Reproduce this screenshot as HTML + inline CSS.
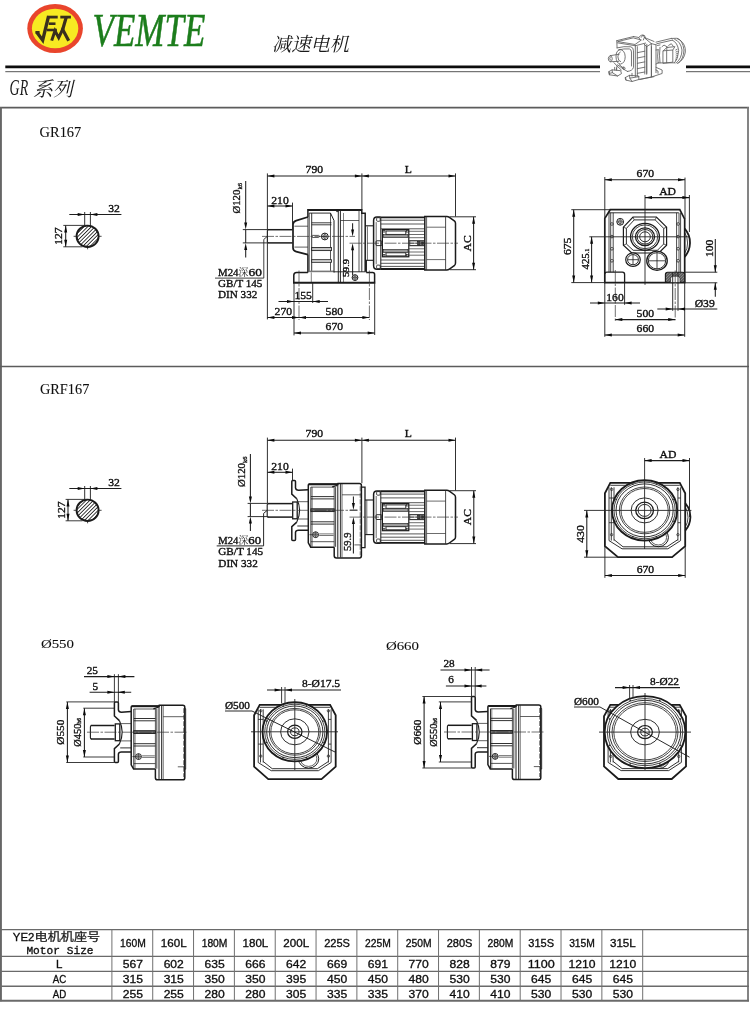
<!DOCTYPE html>
<html lang="en">
<head>
<meta charset="utf-8">
<title>VEMTE GR167 / GRF167</title>
<style>
html,body{margin:0;padding:0;background:#fff;}
body{width:750px;height:1032px;overflow:hidden;position:relative;font-family:"Liberation Serif",serif;}
svg{position:absolute;left:0;top:0;display:block;filter:blur(0.35px);}
text{white-space:pre;}
</style>
</head>
<body>
<svg width="750" height="1032" viewBox="0 0 750 1032" shape-rendering="geometricPrecision">
<rect x="0" y="0" width="750" height="1032" fill="#ffffff"/>
<g id="header">
<ellipse cx="55.1" cy="28.5" rx="27.8" ry="24.5" fill="#e9452c"/>
<ellipse cx="55.1" cy="28.5" rx="23.2" ry="19.8" fill="#f7ea22"/>
<path d="M36.6,31.9 L42.7,40.2 L48.6,16.0" fill="none" stroke="#3a2f1e" stroke-width="3.3" stroke-linejoin="miter" stroke-miterlimit="6"/>
<path d="M35.4,32.2 L39.6,32.2" fill="none" stroke="#3a2f1e" stroke-width="2.4" />
<path d="M47.7,17.1 L57.7,17.1" fill="none" stroke="#3a2f1e" stroke-width="2.8" />
<path d="M60.3,17.1 L70.9,17.1" fill="none" stroke="#3a2f1e" stroke-width="2.8" />
<path d="M48.7,23.7 L55.5,23.7" fill="none" stroke="#3a2f1e" stroke-width="2.6" />
<path d="M47,30 L56.9,30" fill="none" stroke="#3a2f1e" stroke-width="2.6" />
<path d="M51.7,40.6 L55,30.7 L58.7,37.6 L63.3,28" fill="none" stroke="#3a2f1e" stroke-width="3.0" stroke-linejoin="miter" stroke-miterlimit="6"/>
<path d="M66.3,17 L62.7,29.5 L68.7,40.8" fill="none" stroke="#3a2f1e" stroke-width="3.2" stroke-linejoin="round"/>
<text transform="translate(92.5 46.3) scale(0.745 1)" font-family="Liberation Serif" font-style="italic" font-size="47" fill="#1c7d1c" stroke="#1c7d1c" stroke-width="0.55">VEMTE</text>
<text transform="translate(271.9 51) skewX(-13)" font-family="'Liberation Serif', 'Noto Serif CJK SC', serif" font-size="19.3" fill="#1a1a1a" textLength="77.2" lengthAdjust="spacingAndGlyphs">减速电机</text>
<line x1="5.3" y1="66.9" x2="600" y2="66.9" stroke="#0c0c0c" stroke-width="2.6" />
<line x1="5.3" y1="71.7" x2="600" y2="71.7" stroke="#555" stroke-width="1.0" />
<line x1="686" y1="66.9" x2="750" y2="66.9" stroke="#0c0c0c" stroke-width="2.6" />
<line x1="686" y1="71.7" x2="750" y2="71.7" stroke="#555" stroke-width="1.0" />
<text transform="translate(9.6 94.6) scale(0.62 1)" font-family="Liberation Serif" font-style="italic" font-size="22.5" fill="#1a1a1a">GR</text>
<text transform="translate(33 95.6) skewX(-13)" font-family="'Liberation Serif', 'Noto Serif CJK SC', serif" font-size="20" fill="#1a1a1a" textLength="40" lengthAdjust="spacingAndGlyphs">系列</text>
</g>
<g id="frame">
<line x1="0" y1="107.6" x2="749" y2="107.6" stroke="#5c5c5c" stroke-width="1.6" />
<line x1="0.95" y1="107" x2="0.95" y2="1001.3" stroke="#666" stroke-width="1.9" />
<line x1="748" y1="107" x2="748" y2="1001.3" stroke="#777" stroke-width="1.8" />
<line x1="0" y1="366.5" x2="749" y2="366.5" stroke="#5c5c5c" stroke-width="1.5" />
</g>
<text x="39.6" y="136.6" font-family="Liberation Serif" font-size="13.6" text-anchor="start" fill="#0e0e0e" stroke="#0e0e0e" stroke-width="0.08" textLength="41.7" lengthAdjust="spacingAndGlyphs" >GR167</text>
<text x="40" y="394.3" font-family="Liberation Serif" font-size="13.6" text-anchor="start" fill="#0e0e0e" stroke="#0e0e0e" stroke-width="0.08" textLength="49.3" lengthAdjust="spacingAndGlyphs" >GRF167</text>
<text x="40.9" y="648.4" font-family="Liberation Serif" font-size="13.2" text-anchor="start" fill="#0e0e0e" stroke="#0e0e0e" stroke-width="0.08" textLength="33.1" lengthAdjust="spacingAndGlyphs" >Ø550</text>
<text x="385.9" y="650.3" font-family="Liberation Serif" font-size="13.2" text-anchor="start" fill="#0e0e0e" stroke="#0e0e0e" stroke-width="0.08" textLength="33.1" lengthAdjust="spacingAndGlyphs" >Ø660</text>
<g id="table">
<line x1="0" y1="929.5" x2="749" y2="929.5" stroke="#6a6a6a" stroke-width="1.25" />
<line x1="0" y1="956.4" x2="749" y2="956.4" stroke="#6a6a6a" stroke-width="1.25" />
<line x1="0" y1="971.3" x2="749" y2="971.3" stroke="#6a6a6a" stroke-width="1.25" />
<line x1="0" y1="986.2" x2="749" y2="986.2" stroke="#6a6a6a" stroke-width="1.35" />
<line x1="0" y1="1000.8" x2="749" y2="1000.8" stroke="#6a6a6a" stroke-width="1.9" />
<line x1="111.9" y1="929.5" x2="111.9" y2="1000.7" stroke="#707070" stroke-width="1.0" />
<line x1="152.73" y1="929.5" x2="152.73" y2="1000.7" stroke="#707070" stroke-width="1.0" />
<line x1="193.56" y1="929.5" x2="193.56" y2="1000.7" stroke="#707070" stroke-width="1.0" />
<line x1="234.39" y1="929.5" x2="234.39" y2="1000.7" stroke="#707070" stroke-width="1.0" />
<line x1="275.22" y1="929.5" x2="275.22" y2="1000.7" stroke="#707070" stroke-width="1.0" />
<line x1="316.05" y1="929.5" x2="316.05" y2="1000.7" stroke="#707070" stroke-width="1.0" />
<line x1="356.88" y1="929.5" x2="356.88" y2="1000.7" stroke="#707070" stroke-width="1.0" />
<line x1="397.71" y1="929.5" x2="397.71" y2="1000.7" stroke="#707070" stroke-width="1.0" />
<line x1="438.54" y1="929.5" x2="438.54" y2="1000.7" stroke="#707070" stroke-width="1.0" />
<line x1="479.37" y1="929.5" x2="479.37" y2="1000.7" stroke="#707070" stroke-width="1.0" />
<line x1="520.2" y1="929.5" x2="520.2" y2="1000.7" stroke="#707070" stroke-width="1.0" />
<line x1="561.03" y1="929.5" x2="561.03" y2="1000.7" stroke="#707070" stroke-width="1.0" />
<line x1="601.86" y1="929.5" x2="601.86" y2="1000.7" stroke="#707070" stroke-width="1.0" />
<line x1="642.69" y1="929.5" x2="642.69" y2="1000.7" stroke="#707070" stroke-width="1.0" />
<text x="12.8" y="941.3" font-family="Liberation Sans" font-size="11.2" text-anchor="start" fill="#0e0e0e" stroke="#0e0e0e" stroke-width="0.32" textLength="21.5" lengthAdjust="spacingAndGlyphs" >YE2</text>
<text x="34.6" y="941" font-family="'Liberation Sans', 'Noto Sans CJK SC', sans-serif" font-size="11.2" text-anchor="start" fill="#1a1a1a" stroke="#1a1a1a" stroke-width="0.25" textLength="65.5" lengthAdjust="spacingAndGlyphs">电机机座号</text>
<text x="26.4" y="954.4" font-family="Liberation Mono" font-size="11" text-anchor="start" fill="#0e0e0e" stroke="#0e0e0e" stroke-width="0.32" textLength="67.2" lengthAdjust="spacingAndGlyphs" >Motor Size</text>
<text x="59.3" y="968.1" font-family="Liberation Sans" font-size="11.5" text-anchor="middle" fill="#0e0e0e" stroke="#0e0e0e" stroke-width="0.32" >L</text>
<text x="59.5" y="982.7" font-family="Liberation Sans" font-size="11.5" text-anchor="middle" fill="#0e0e0e" stroke="#0e0e0e" stroke-width="0.32" textLength="13.5" lengthAdjust="spacingAndGlyphs" >AC</text>
<text x="59.5" y="997.5" font-family="Liberation Sans" font-size="11.5" text-anchor="middle" fill="#0e0e0e" stroke="#0e0e0e" stroke-width="0.32" textLength="13.5" lengthAdjust="spacingAndGlyphs" >AD</text>
<text x="132.91" y="947.2" font-family="Liberation Sans" font-size="11.2" text-anchor="middle" fill="#0e0e0e" stroke="#0e0e0e" stroke-width="0.32" textLength="25.8" lengthAdjust="spacingAndGlyphs" >160M</text>
<text x="132.91" y="968.1" font-family="Liberation Sans" font-size="11.6" text-anchor="middle" fill="#0e0e0e" stroke="#0e0e0e" stroke-width="0.32" textLength="20.2" lengthAdjust="spacingAndGlyphs" >567</text>
<text x="132.91" y="982.7" font-family="Liberation Sans" font-size="11.6" text-anchor="middle" fill="#0e0e0e" stroke="#0e0e0e" stroke-width="0.32" textLength="20.2" lengthAdjust="spacingAndGlyphs" >315</text>
<text x="132.91" y="997.5" font-family="Liberation Sans" font-size="11.6" text-anchor="middle" fill="#0e0e0e" stroke="#0e0e0e" stroke-width="0.32" textLength="20.2" lengthAdjust="spacingAndGlyphs" >255</text>
<text x="173.75" y="947.2" font-family="Liberation Sans" font-size="11.2" text-anchor="middle" fill="#0e0e0e" stroke="#0e0e0e" stroke-width="0.32" textLength="25.8" lengthAdjust="spacingAndGlyphs" >160L</text>
<text x="173.75" y="968.1" font-family="Liberation Sans" font-size="11.6" text-anchor="middle" fill="#0e0e0e" stroke="#0e0e0e" stroke-width="0.32" textLength="20.2" lengthAdjust="spacingAndGlyphs" >602</text>
<text x="173.75" y="982.7" font-family="Liberation Sans" font-size="11.6" text-anchor="middle" fill="#0e0e0e" stroke="#0e0e0e" stroke-width="0.32" textLength="20.2" lengthAdjust="spacingAndGlyphs" >315</text>
<text x="173.75" y="997.5" font-family="Liberation Sans" font-size="11.6" text-anchor="middle" fill="#0e0e0e" stroke="#0e0e0e" stroke-width="0.32" textLength="20.2" lengthAdjust="spacingAndGlyphs" >255</text>
<text x="214.57" y="947.2" font-family="Liberation Sans" font-size="11.2" text-anchor="middle" fill="#0e0e0e" stroke="#0e0e0e" stroke-width="0.32" textLength="25.8" lengthAdjust="spacingAndGlyphs" >180M</text>
<text x="214.57" y="968.1" font-family="Liberation Sans" font-size="11.6" text-anchor="middle" fill="#0e0e0e" stroke="#0e0e0e" stroke-width="0.32" textLength="20.2" lengthAdjust="spacingAndGlyphs" >635</text>
<text x="214.57" y="982.7" font-family="Liberation Sans" font-size="11.6" text-anchor="middle" fill="#0e0e0e" stroke="#0e0e0e" stroke-width="0.32" textLength="20.2" lengthAdjust="spacingAndGlyphs" >350</text>
<text x="214.57" y="997.5" font-family="Liberation Sans" font-size="11.6" text-anchor="middle" fill="#0e0e0e" stroke="#0e0e0e" stroke-width="0.32" textLength="20.2" lengthAdjust="spacingAndGlyphs" >280</text>
<text x="255.41" y="947.2" font-family="Liberation Sans" font-size="11.2" text-anchor="middle" fill="#0e0e0e" stroke="#0e0e0e" stroke-width="0.32" textLength="25.8" lengthAdjust="spacingAndGlyphs" >180L</text>
<text x="255.41" y="968.1" font-family="Liberation Sans" font-size="11.6" text-anchor="middle" fill="#0e0e0e" stroke="#0e0e0e" stroke-width="0.32" textLength="20.2" lengthAdjust="spacingAndGlyphs" >666</text>
<text x="255.41" y="982.7" font-family="Liberation Sans" font-size="11.6" text-anchor="middle" fill="#0e0e0e" stroke="#0e0e0e" stroke-width="0.32" textLength="20.2" lengthAdjust="spacingAndGlyphs" >350</text>
<text x="255.41" y="997.5" font-family="Liberation Sans" font-size="11.6" text-anchor="middle" fill="#0e0e0e" stroke="#0e0e0e" stroke-width="0.32" textLength="20.2" lengthAdjust="spacingAndGlyphs" >280</text>
<text x="296.24" y="947.2" font-family="Liberation Sans" font-size="11.2" text-anchor="middle" fill="#0e0e0e" stroke="#0e0e0e" stroke-width="0.32" textLength="25.8" lengthAdjust="spacingAndGlyphs" >200L</text>
<text x="296.24" y="968.1" font-family="Liberation Sans" font-size="11.6" text-anchor="middle" fill="#0e0e0e" stroke="#0e0e0e" stroke-width="0.32" textLength="20.2" lengthAdjust="spacingAndGlyphs" >642</text>
<text x="296.24" y="982.7" font-family="Liberation Sans" font-size="11.6" text-anchor="middle" fill="#0e0e0e" stroke="#0e0e0e" stroke-width="0.32" textLength="20.2" lengthAdjust="spacingAndGlyphs" >395</text>
<text x="296.24" y="997.5" font-family="Liberation Sans" font-size="11.6" text-anchor="middle" fill="#0e0e0e" stroke="#0e0e0e" stroke-width="0.32" textLength="20.2" lengthAdjust="spacingAndGlyphs" >305</text>
<text x="337.06" y="947.2" font-family="Liberation Sans" font-size="11.2" text-anchor="middle" fill="#0e0e0e" stroke="#0e0e0e" stroke-width="0.32" textLength="25.8" lengthAdjust="spacingAndGlyphs" >225S</text>
<text x="337.06" y="968.1" font-family="Liberation Sans" font-size="11.6" text-anchor="middle" fill="#0e0e0e" stroke="#0e0e0e" stroke-width="0.32" textLength="20.2" lengthAdjust="spacingAndGlyphs" >669</text>
<text x="337.06" y="982.7" font-family="Liberation Sans" font-size="11.6" text-anchor="middle" fill="#0e0e0e" stroke="#0e0e0e" stroke-width="0.32" textLength="20.2" lengthAdjust="spacingAndGlyphs" >450</text>
<text x="337.06" y="997.5" font-family="Liberation Sans" font-size="11.6" text-anchor="middle" fill="#0e0e0e" stroke="#0e0e0e" stroke-width="0.32" textLength="20.2" lengthAdjust="spacingAndGlyphs" >335</text>
<text x="377.9" y="947.2" font-family="Liberation Sans" font-size="11.2" text-anchor="middle" fill="#0e0e0e" stroke="#0e0e0e" stroke-width="0.32" textLength="25.8" lengthAdjust="spacingAndGlyphs" >225M</text>
<text x="377.9" y="968.1" font-family="Liberation Sans" font-size="11.6" text-anchor="middle" fill="#0e0e0e" stroke="#0e0e0e" stroke-width="0.32" textLength="20.2" lengthAdjust="spacingAndGlyphs" >691</text>
<text x="377.9" y="982.7" font-family="Liberation Sans" font-size="11.6" text-anchor="middle" fill="#0e0e0e" stroke="#0e0e0e" stroke-width="0.32" textLength="20.2" lengthAdjust="spacingAndGlyphs" >450</text>
<text x="377.9" y="997.5" font-family="Liberation Sans" font-size="11.6" text-anchor="middle" fill="#0e0e0e" stroke="#0e0e0e" stroke-width="0.32" textLength="20.2" lengthAdjust="spacingAndGlyphs" >335</text>
<text x="418.73" y="947.2" font-family="Liberation Sans" font-size="11.2" text-anchor="middle" fill="#0e0e0e" stroke="#0e0e0e" stroke-width="0.32" textLength="25.8" lengthAdjust="spacingAndGlyphs" >250M</text>
<text x="418.73" y="968.1" font-family="Liberation Sans" font-size="11.6" text-anchor="middle" fill="#0e0e0e" stroke="#0e0e0e" stroke-width="0.32" textLength="20.2" lengthAdjust="spacingAndGlyphs" >770</text>
<text x="418.73" y="982.7" font-family="Liberation Sans" font-size="11.6" text-anchor="middle" fill="#0e0e0e" stroke="#0e0e0e" stroke-width="0.32" textLength="20.2" lengthAdjust="spacingAndGlyphs" >480</text>
<text x="418.73" y="997.5" font-family="Liberation Sans" font-size="11.6" text-anchor="middle" fill="#0e0e0e" stroke="#0e0e0e" stroke-width="0.32" textLength="20.2" lengthAdjust="spacingAndGlyphs" >370</text>
<text x="459.56" y="947.2" font-family="Liberation Sans" font-size="11.2" text-anchor="middle" fill="#0e0e0e" stroke="#0e0e0e" stroke-width="0.32" textLength="25.8" lengthAdjust="spacingAndGlyphs" >280S</text>
<text x="459.56" y="968.1" font-family="Liberation Sans" font-size="11.6" text-anchor="middle" fill="#0e0e0e" stroke="#0e0e0e" stroke-width="0.32" textLength="20.2" lengthAdjust="spacingAndGlyphs" >828</text>
<text x="459.56" y="982.7" font-family="Liberation Sans" font-size="11.6" text-anchor="middle" fill="#0e0e0e" stroke="#0e0e0e" stroke-width="0.32" textLength="20.2" lengthAdjust="spacingAndGlyphs" >530</text>
<text x="459.56" y="997.5" font-family="Liberation Sans" font-size="11.6" text-anchor="middle" fill="#0e0e0e" stroke="#0e0e0e" stroke-width="0.32" textLength="20.2" lengthAdjust="spacingAndGlyphs" >410</text>
<text x="500.38" y="947.2" font-family="Liberation Sans" font-size="11.2" text-anchor="middle" fill="#0e0e0e" stroke="#0e0e0e" stroke-width="0.32" textLength="25.8" lengthAdjust="spacingAndGlyphs" >280M</text>
<text x="500.38" y="968.1" font-family="Liberation Sans" font-size="11.6" text-anchor="middle" fill="#0e0e0e" stroke="#0e0e0e" stroke-width="0.32" textLength="20.2" lengthAdjust="spacingAndGlyphs" >879</text>
<text x="500.38" y="982.7" font-family="Liberation Sans" font-size="11.6" text-anchor="middle" fill="#0e0e0e" stroke="#0e0e0e" stroke-width="0.32" textLength="20.2" lengthAdjust="spacingAndGlyphs" >530</text>
<text x="500.38" y="997.5" font-family="Liberation Sans" font-size="11.6" text-anchor="middle" fill="#0e0e0e" stroke="#0e0e0e" stroke-width="0.32" textLength="20.2" lengthAdjust="spacingAndGlyphs" >410</text>
<text x="541.22" y="947.2" font-family="Liberation Sans" font-size="11.2" text-anchor="middle" fill="#0e0e0e" stroke="#0e0e0e" stroke-width="0.32" textLength="25.8" lengthAdjust="spacingAndGlyphs" >315S</text>
<text x="541.22" y="968.1" font-family="Liberation Sans" font-size="11.6" text-anchor="middle" fill="#0e0e0e" stroke="#0e0e0e" stroke-width="0.32" textLength="27" lengthAdjust="spacingAndGlyphs" >1100</text>
<text x="541.22" y="982.7" font-family="Liberation Sans" font-size="11.6" text-anchor="middle" fill="#0e0e0e" stroke="#0e0e0e" stroke-width="0.32" textLength="20.2" lengthAdjust="spacingAndGlyphs" >645</text>
<text x="541.22" y="997.5" font-family="Liberation Sans" font-size="11.6" text-anchor="middle" fill="#0e0e0e" stroke="#0e0e0e" stroke-width="0.32" textLength="20.2" lengthAdjust="spacingAndGlyphs" >530</text>
<text x="582.04" y="947.2" font-family="Liberation Sans" font-size="11.2" text-anchor="middle" fill="#0e0e0e" stroke="#0e0e0e" stroke-width="0.32" textLength="25.8" lengthAdjust="spacingAndGlyphs" >315M</text>
<text x="582.04" y="968.1" font-family="Liberation Sans" font-size="11.6" text-anchor="middle" fill="#0e0e0e" stroke="#0e0e0e" stroke-width="0.32" textLength="27" lengthAdjust="spacingAndGlyphs" >1210</text>
<text x="582.04" y="982.7" font-family="Liberation Sans" font-size="11.6" text-anchor="middle" fill="#0e0e0e" stroke="#0e0e0e" stroke-width="0.32" textLength="20.2" lengthAdjust="spacingAndGlyphs" >645</text>
<text x="582.04" y="997.5" font-family="Liberation Sans" font-size="11.6" text-anchor="middle" fill="#0e0e0e" stroke="#0e0e0e" stroke-width="0.32" textLength="20.2" lengthAdjust="spacingAndGlyphs" >530</text>
<text x="622.88" y="947.2" font-family="Liberation Sans" font-size="11.2" text-anchor="middle" fill="#0e0e0e" stroke="#0e0e0e" stroke-width="0.32" textLength="25.8" lengthAdjust="spacingAndGlyphs" >315L</text>
<text x="622.88" y="968.1" font-family="Liberation Sans" font-size="11.6" text-anchor="middle" fill="#0e0e0e" stroke="#0e0e0e" stroke-width="0.32" textLength="27" lengthAdjust="spacingAndGlyphs" >1210</text>
<text x="622.88" y="982.7" font-family="Liberation Sans" font-size="11.6" text-anchor="middle" fill="#0e0e0e" stroke="#0e0e0e" stroke-width="0.32" textLength="20.2" lengthAdjust="spacingAndGlyphs" >645</text>
<text x="622.88" y="997.5" font-family="Liberation Sans" font-size="11.6" text-anchor="middle" fill="#0e0e0e" stroke="#0e0e0e" stroke-width="0.32" textLength="20.2" lengthAdjust="spacingAndGlyphs" >530</text>
</g>
<g id="gr167-side">
<line x1="267.5" y1="229.7" x2="292.6" y2="229.7" stroke="#1b1b1b" stroke-width="1.5" />
<line x1="267.5" y1="242.9" x2="292.6" y2="242.9" stroke="#1b1b1b" stroke-width="1.5" />
<path d="M268.3,229.7 L267.4,230.8 L267.4,241.8 L268.3,242.9" fill="none" stroke="#1b1b1b" stroke-width="1.0" />
<path d="M307.9,217 L296.2,220.6 Q293,221.6 293,224.6 L293,247.8 Q293,250.8 296.2,251.6 L307.9,254.6" fill="none" stroke="#1b1b1b" stroke-width="1.7" />
<line x1="294.4" y1="226.2" x2="307.9" y2="226.2" stroke="#2c2c2c" stroke-width="0.75" />
<line x1="294.4" y1="247.1" x2="307.9" y2="247.1" stroke="#2c2c2c" stroke-width="0.75" />
<path d="M307.9,217 L307.9,209.7 L361.8,209.7 L361.8,213.2 L365.2,213.2 L365.2,271.8" fill="none" stroke="#1b1b1b" stroke-width="1.5" />
<line x1="307.9" y1="254.6" x2="307.9" y2="272.4" stroke="#1b1b1b" stroke-width="1.5" />
<line x1="307.9" y1="217" x2="307.9" y2="254.6" stroke="#1b1b1b" stroke-width="0.8" />
<line x1="307.9" y1="210" x2="361.8" y2="210" stroke="#1b1b1b" stroke-width="1.8" />
<line x1="309.2" y1="213.1" x2="309.2" y2="272" stroke="#1b1b1b" stroke-width="0.8" />
<line x1="311.7" y1="213.1" x2="311.7" y2="272" stroke="#1b1b1b" stroke-width="0.9" />
<line x1="330.5" y1="213.1" x2="330.5" y2="272" stroke="#2c2c2c" stroke-width="0.8" />
<line x1="309.2" y1="213.1" x2="330.5" y2="213.1" stroke="#1b1b1b" stroke-width="0.9" />
<rect x="311.7" y="247.5" width="19.8" height="3.1" rx="0" fill="#c4c4c4" stroke="#1b1b1b" stroke-width="0.85"/>
<rect x="311.7" y="259.7" width="19.8" height="2.6" rx="0" fill="#dcdcdc" stroke="#1b1b1b" stroke-width="0.85"/>
<line x1="311.7" y1="222.8" x2="331.5" y2="222.8" stroke="#1b1b1b" stroke-width="0.85" />
<line x1="311.7" y1="224.8" x2="331.5" y2="224.8" stroke="#1b1b1b" stroke-width="0.85" />
<line x1="309.2" y1="271.4" x2="334" y2="271.4" stroke="#777" stroke-width="1.6" />
<path d="M330.5,213.1 L334.0,220.5 L334.0,272.6" fill="none" stroke="#1b1b1b" stroke-width="1.0" />
<path d="M336.6,209.9 L336.6,211.6 L338.3,211.6" fill="none" stroke="#1b1b1b" stroke-width="0.9" />
<line x1="338.3" y1="209.7" x2="338.3" y2="282.3" stroke="#1b1b1b" stroke-width="0.95" />
<line x1="340.4" y1="209.7" x2="340.4" y2="282.3" stroke="#1b1b1b" stroke-width="0.95" />
<line x1="359" y1="209.7" x2="359" y2="271.8" stroke="#2c2c2c" stroke-width="0.8" />
<line x1="361.8" y1="213.2" x2="361.8" y2="271.8" stroke="#1b1b1b" stroke-width="0.9" />
<line x1="343.5" y1="213" x2="343.5" y2="282" stroke="#2c2c2c" stroke-width="0.6" />
<line x1="340.4" y1="220.5" x2="359" y2="220.5" stroke="#2c2c2c" stroke-width="0.75" />
<line x1="365.2" y1="225.8" x2="373.6" y2="225.8" stroke="#1b1b1b" stroke-width="1.1" />
<line x1="365.2" y1="260.3" x2="373.6" y2="260.3" stroke="#1b1b1b" stroke-width="1.1" />
<line x1="366.3" y1="260.3" x2="366.3" y2="272.4" stroke="#1b1b1b" stroke-width="1.3" />
<line x1="367.4" y1="226.4" x2="367.4" y2="260.3" stroke="#2c2c2c" stroke-width="0.7" />
<path d="M307.9,272.4 L296.6,272.4 Q293.8,272.4 293.8,275.2 L293.8,282.6" fill="none" stroke="#1b1b1b" stroke-width="1.5" />
<line x1="293" y1="282.7" x2="375.3" y2="282.7" stroke="#1b1b1b" stroke-width="1.9" />
<path d="M366.3,272.5 L372.6,272.5 Q374.6,272.5 374.6,274.5 L374.6,282.6" fill="none" stroke="#1b1b1b" stroke-width="1.5" />
<line x1="334" y1="271.8" x2="365.2" y2="271.8" stroke="#1b1b1b" stroke-width="0.9" />
<line x1="311.3" y1="272.4" x2="311.3" y2="282.5" stroke="#2c2c2c" stroke-width="0.6" />
<line x1="262" y1="236.4" x2="355" y2="236.4" stroke="#333" stroke-width="0.7" stroke-dasharray="12 1.5 2.5 1.5"/>
<circle cx="324.8" cy="236.5" r="3.4" fill="none" stroke="#1b1b1b" stroke-width="1.0"/>
<circle cx="324.8" cy="236.5" r="1.87" fill="none" stroke="#1b1b1b" stroke-width="0.6"/>
<line x1="321.4" y1="236.5" x2="328.2" y2="236.5" stroke="#1b1b1b" stroke-width="0.6" />
<line x1="324.8" y1="233.1" x2="324.8" y2="239.9" stroke="#1b1b1b" stroke-width="0.6" />
<path d="M312.2,235.4 L318.6,235.4 L319.8,236.4 L318.6,237.5 L312.2,237.5" fill="none" stroke="#1b1b1b" stroke-width="0.7" />
<circle cx="355" cy="277.6" r="2.9" fill="none" stroke="#1b1b1b" stroke-width="1.0"/>
<circle cx="355" cy="277.6" r="1.59" fill="none" stroke="#1b1b1b" stroke-width="0.6"/>
<line x1="352.1" y1="277.6" x2="357.9" y2="277.6" stroke="#1b1b1b" stroke-width="0.6" />
<line x1="355" y1="274.7" x2="355" y2="280.5" stroke="#1b1b1b" stroke-width="0.6" />
<g class="motor">
<path d="M380.8,217.1 L377,217.1 Q373.6,217.1 373.6,220.6 L373.6,265.8 Q373.6,269.3 377,269.3 L380.8,269.3" fill="none" stroke="#1b1b1b" stroke-width="1.5" />
<line x1="380.8" y1="217.1" x2="380.8" y2="269.3" stroke="#1b1b1b" stroke-width="1.0" />
<line x1="376.2" y1="222.1" x2="376.2" y2="264.3" stroke="#2c2c2c" stroke-width="0.7" />
<rect x="376.6" y="217.7" width="3.6" height="3.6" rx="1" fill="none" stroke="#1b1b1b" stroke-width="0.8"/>
<rect x="376.6" y="265.1" width="3.6" height="3.6" rx="1" fill="none" stroke="#1b1b1b" stroke-width="0.8"/>
<line x1="380.8" y1="217.4" x2="425" y2="217.4" stroke="#1b1b1b" stroke-width="1.9" />
<line x1="380.8" y1="269" x2="425" y2="269" stroke="#1b1b1b" stroke-width="1.9" />
<line x1="380.8" y1="220.2" x2="424.8" y2="220.2" stroke="#2c2c2c" stroke-width="0.8" />
<line x1="380.8" y1="224" x2="424.8" y2="224" stroke="#2c2c2c" stroke-width="0.8" />
<line x1="380.8" y1="228.8" x2="424.8" y2="228.8" stroke="#2c2c2c" stroke-width="0.8" />
<line x1="380.8" y1="260" x2="424.8" y2="260" stroke="#2c2c2c" stroke-width="0.8" />
<line x1="380.8" y1="263.3" x2="424.8" y2="263.3" stroke="#2c2c2c" stroke-width="0.8" />
<line x1="380.8" y1="266.4" x2="424.8" y2="266.4" stroke="#2c2c2c" stroke-width="0.8" />
<rect x="382.4" y="229.6" width="26.4" height="27.2" rx="0" fill="none" stroke="#1b1b1b" stroke-width="1.2"/>
<rect x="386" y="231" width="19.8" height="3.4" rx="0" fill="#fff" stroke="#1b1b1b" stroke-width="0.9"/>
<rect x="386" y="252.8" width="19.8" height="3.1" rx="0" fill="#fff" stroke="#1b1b1b" stroke-width="0.9"/>
<rect x="383.2" y="234.6" width="24.8" height="3" rx="0" fill="#9a9a9a" stroke="#1b1b1b" stroke-width="0.6"/>
<rect x="383.2" y="249.4" width="24.8" height="3.2" rx="0" fill="#9a9a9a" stroke="#1b1b1b" stroke-width="0.6"/>
<rect x="383.1" y="230.3" width="1.8" height="1.8" rx="0" fill="none" stroke="#1b1b1b" stroke-width="0.6"/>
<rect x="406.3" y="230.3" width="1.8" height="1.8" rx="0" fill="none" stroke="#1b1b1b" stroke-width="0.6"/>
<rect x="383.1" y="254.3" width="1.8" height="1.8" rx="0" fill="none" stroke="#1b1b1b" stroke-width="0.6"/>
<rect x="406.3" y="254.3" width="1.8" height="1.8" rx="0" fill="none" stroke="#1b1b1b" stroke-width="0.6"/>
<line x1="408.8" y1="231.3" x2="424.8" y2="231.3" stroke="#2c2c2c" stroke-width="0.7" />
<line x1="408.8" y1="234.5" x2="424.8" y2="234.5" stroke="#2c2c2c" stroke-width="0.7" />
<line x1="408.8" y1="237.7" x2="424.8" y2="237.7" stroke="#2c2c2c" stroke-width="0.7" />
<line x1="408.8" y1="240.6" x2="424.8" y2="240.6" stroke="#2c2c2c" stroke-width="0.7" />
<line x1="408.8" y1="245.8" x2="424.8" y2="245.8" stroke="#2c2c2c" stroke-width="0.7" />
<line x1="408.8" y1="248.8" x2="424.8" y2="248.8" stroke="#2c2c2c" stroke-width="0.7" />
<line x1="408.8" y1="252" x2="424.8" y2="252" stroke="#2c2c2c" stroke-width="0.7" />
<line x1="408.8" y1="255.2" x2="424.8" y2="255.2" stroke="#2c2c2c" stroke-width="0.7" />
<rect x="409.8" y="240.9" width="14.4" height="4.6" rx="0" fill="#fff" stroke="#1b1b1b" stroke-width="0.8"/>
<rect x="417.6" y="241.3" width="2.6" height="3.8" rx="0" fill="#444" stroke="#1b1b1b" stroke-width="0.6"/>
<rect x="421.4" y="241.8" width="2.2" height="2.8" rx="0" fill="#333" stroke="#1b1b1b" stroke-width="0.6"/>
<line x1="409.8" y1="243.2" x2="417.6" y2="243.2" stroke="#1b1b1b" stroke-width="0.6" />
<rect x="376" y="240.8" width="5.8" height="4.8" rx="0.8" fill="none" stroke="#1b1b1b" stroke-width="0.9"/>
<path d="M424.8,216.4 L446.8,216.4 Q448.2,216.4 449.4,217.3 L454.6,221.1 Q455.5,221.9 455.5,223.3 L455.5,263.1 Q455.5,264.5 454.6,265.3 L449.4,269.1 Q448.2,270 446.8,270 L424.8,270 Z" fill="none" stroke="#1b1b1b" stroke-width="1.5" />
<line x1="445.6" y1="216.4" x2="445.6" y2="270" stroke="#2c2c2c" stroke-width="0.85" />
<line x1="426.6" y1="216.4" x2="426.6" y2="270" stroke="#2c2c2c" stroke-width="0.75" />
<line x1="426.6" y1="227.2" x2="445.6" y2="227.2" stroke="#2c2c2c" stroke-width="0.7" />
<line x1="426.6" y1="259.6" x2="445.6" y2="259.6" stroke="#2c2c2c" stroke-width="0.7" />
<line x1="349.5" y1="243.2" x2="458" y2="243.2" stroke="#333" stroke-width="0.7" stroke-dasharray="12 1.5 2.5 1.5"/>
</g>
<line x1="267.4" y1="173.4" x2="267.4" y2="319.4" stroke="#262626" stroke-width="0.95" />
<line x1="361.9" y1="173.4" x2="361.9" y2="209.7" stroke="#262626" stroke-width="0.95" />
<line x1="455.5" y1="173.4" x2="455.5" y2="216.5" stroke="#262626" stroke-width="0.95" />
<line x1="267.4" y1="176" x2="361.9" y2="176" stroke="#1e1e1e" stroke-width="1.05" />
<polygon points="267.4,176 274.4,174.5 274.4,177.5" fill="#0a0a0a"/>
<polygon points="361.9,176 354.9,174.5 354.9,177.5" fill="#0a0a0a"/>
<line x1="361.9" y1="176" x2="455.5" y2="176" stroke="#1e1e1e" stroke-width="1.05" />
<polygon points="361.9,176 368.9,174.5 368.9,177.5" fill="#0a0a0a"/>
<polygon points="455.5,176 448.5,174.5 448.5,177.5" fill="#0a0a0a"/>
<text x="314.3" y="172.9" font-family="Liberation Serif" font-size="10.8" text-anchor="middle" fill="#0e0e0e" stroke="#0e0e0e" stroke-width="0.34" textLength="17.5" lengthAdjust="spacingAndGlyphs" >790</text>
<text x="408.3" y="172.6" font-family="Liberation Serif" font-size="10.8" text-anchor="middle" fill="#0e0e0e" stroke="#0e0e0e" stroke-width="0.34" textLength="7.12" lengthAdjust="spacingAndGlyphs" >L</text>
<line x1="292.5" y1="202.6" x2="292.5" y2="229.5" stroke="#262626" stroke-width="0.95" />
<line x1="267.4" y1="206" x2="292.5" y2="206" stroke="#1e1e1e" stroke-width="1.05" />
<polygon points="267.4,206 274.4,204.5 274.4,207.5" fill="#0a0a0a"/>
<polygon points="292.5,206 285.5,204.5 285.5,207.5" fill="#0a0a0a"/>
<text x="280" y="203.6" font-family="Liberation Serif" font-size="10.8" text-anchor="middle" fill="#0e0e0e" stroke="#0e0e0e" stroke-width="0.34" textLength="17.5" lengthAdjust="spacingAndGlyphs" >210</text>
<line x1="245.7" y1="181" x2="245.7" y2="223" stroke="#1e1e1e" stroke-width="1.05" />
<polygon points="245.7,229.6 244.2,222.6 247.2,222.6" fill="#0a0a0a"/>
<line x1="245.7" y1="249" x2="245.7" y2="257.4" stroke="#1e1e1e" stroke-width="1.05" />
<polygon points="245.7,242.9 244.2,249.9 247.2,249.9" fill="#0a0a0a"/>
<line x1="245.7" y1="229.6" x2="245.7" y2="242.9" stroke="#1e1e1e" stroke-width="1.05" />
<line x1="242.8" y1="229.6" x2="267.4" y2="229.6" stroke="#262626" stroke-width="0.95" />
<line x1="242.8" y1="242.9" x2="267.4" y2="242.9" stroke="#262626" stroke-width="0.95" />
<text transform="translate(240.4 213.6) rotate(-90)" font-family="Liberation Serif" font-size="10.8" fill="#161616" stroke="#0e0e0e" stroke-width="0.34">Ø120<tspan font-size="6.5" dy="1.8">k6</tspan></text>
<path d="M267.4,236.3 L263.8,239.4 L263.8,278.1 L215,278.1" fill="none" stroke="#1e1e1e" stroke-width="0.85" />
<text x="218" y="275.7" font-family="Liberation Serif" font-size="10.2" text-anchor="start" fill="#0e0e0e" stroke="#0e0e0e" stroke-width="0.34" textLength="20.5" lengthAdjust="spacingAndGlyphs" >M24</text>
<text x="238.6" y="275.6" font-family="'Liberation Serif', 'Noto Serif CJK SC', serif" font-size="9.8" text-anchor="start" fill="#222">深</text>
<text x="248.6" y="275.7" font-family="Liberation Serif" font-size="10.2" text-anchor="start" fill="#0e0e0e" stroke="#0e0e0e" stroke-width="0.34" textLength="13.4" lengthAdjust="spacingAndGlyphs" >60</text>
<text x="218" y="286.5" font-family="Liberation Serif" font-size="10.4" text-anchor="start" fill="#0e0e0e" stroke="#0e0e0e" stroke-width="0.34" textLength="44.4" lengthAdjust="spacingAndGlyphs" >GB/T 145</text>
<text x="218" y="298" font-family="Liberation Serif" font-size="10.4" text-anchor="start" fill="#0e0e0e" stroke="#0e0e0e" stroke-width="0.34" textLength="39.3" lengthAdjust="spacingAndGlyphs" >DIN 332</text>
<line x1="352.6" y1="223.2" x2="352.6" y2="230" stroke="#1e1e1e" stroke-width="1.05" />
<polygon points="352.6,236.4 351.1,229.4 354.1,229.4" fill="#0a0a0a"/>
<line x1="352.6" y1="249.5" x2="352.6" y2="275.2" stroke="#1e1e1e" stroke-width="1.05" />
<polygon points="352.6,243.3 351.1,250.3 354.1,250.3" fill="#0a0a0a"/>
<text transform="translate(349 277) rotate(-90)" font-family="Liberation Serif" font-size="8.9" text-anchor="start" fill="#0e0e0e" stroke="#0e0e0e" stroke-width="0.34" textLength="17.9" lengthAdjust="spacingAndGlyphs" >59.9</text>
<line x1="449.6" y1="216.8" x2="476" y2="216.8" stroke="#262626" stroke-width="0.95" />
<line x1="449.6" y1="269.7" x2="476" y2="269.7" stroke="#262626" stroke-width="0.95" />
<line x1="473.6" y1="216.8" x2="473.6" y2="269.7" stroke="#1e1e1e" stroke-width="1.05" />
<polygon points="473.6,216.8 472.1,223.8 475.1,223.8" fill="#0a0a0a"/>
<polygon points="473.6,269.7 472.1,262.7 475.1,262.7" fill="#0a0a0a"/>
<text transform="translate(470.6 243.3) rotate(-90)" font-family="Liberation Serif" font-size="10.8" text-anchor="middle" fill="#0e0e0e" stroke="#0e0e0e" stroke-width="0.34" textLength="16.2" lengthAdjust="spacingAndGlyphs" >AC</text>
<line x1="294" y1="283" x2="294" y2="335.4" stroke="#262626" stroke-width="0.95" />
<line x1="299" y1="270.5" x2="299" y2="320" stroke="#333" stroke-width="0.7" stroke-dasharray="12 1.5 2.5 1.5"/>
<line x1="312.7" y1="283" x2="312.7" y2="303" stroke="#262626" stroke-width="0.95" />
<line x1="369.4" y1="270.5" x2="369.4" y2="320" stroke="#333" stroke-width="0.7" stroke-dasharray="12 1.5 2.5 1.5"/>
<line x1="374.7" y1="283" x2="374.7" y2="335" stroke="#262626" stroke-width="0.95" />
<line x1="278.5" y1="301.5" x2="328" y2="301.5" stroke="#1e1e1e" stroke-width="1.05" />
<polygon points="294,301.5 287,300 287,303" fill="#0a0a0a"/>
<polygon points="312.7,301.5 319.7,300 319.7,303" fill="#0a0a0a"/>
<text x="303.2" y="298.8" font-family="Liberation Serif" font-size="10.8" text-anchor="middle" fill="#0e0e0e" stroke="#0e0e0e" stroke-width="0.34" textLength="17.5" lengthAdjust="spacingAndGlyphs" >155</text>
<line x1="267.4" y1="317.5" x2="299" y2="317.5" stroke="#1e1e1e" stroke-width="1.05" />
<polygon points="267.4,317.5 274.4,316 274.4,319" fill="#0a0a0a"/>
<polygon points="299,317.5 292,316 292,319" fill="#0a0a0a"/>
<line x1="299" y1="317.5" x2="369.4" y2="317.5" stroke="#1e1e1e" stroke-width="1.05" />
<polygon points="299,317.5 306,316 306,319" fill="#0a0a0a"/>
<polygon points="369.4,317.5 362.4,316 362.4,319" fill="#0a0a0a"/>
<text x="283.3" y="314.8" font-family="Liberation Serif" font-size="10.8" text-anchor="middle" fill="#0e0e0e" stroke="#0e0e0e" stroke-width="0.34" textLength="17.5" lengthAdjust="spacingAndGlyphs" >270</text>
<text x="334.3" y="314.9" font-family="Liberation Serif" font-size="10.8" text-anchor="middle" fill="#0e0e0e" stroke="#0e0e0e" stroke-width="0.34" textLength="17.5" lengthAdjust="spacingAndGlyphs" >580</text>
<line x1="294" y1="332.9" x2="374.7" y2="332.9" stroke="#1e1e1e" stroke-width="1.05" />
<polygon points="294,332.9 301,331.4 301,334.4" fill="#0a0a0a"/>
<polygon points="374.7,332.9 367.7,331.4 367.7,334.4" fill="#0a0a0a"/>
<text x="334.3" y="330.2" font-family="Liberation Serif" font-size="10.8" text-anchor="middle" fill="#0e0e0e" stroke="#0e0e0e" stroke-width="0.34" textLength="17.5" lengthAdjust="spacingAndGlyphs" >670</text>
</g>
<defs><pattern id="hatch" width="2" height="2" patternUnits="userSpaceOnUse" patternTransform="rotate(45)"><rect width="2" height="2" fill="#8a8a8a"/><line x1="0" y1="0" x2="0" y2="2" stroke="#2a2a2a" stroke-width="1.3"/></pattern></defs>
<g id="gr167-front">
<path d="M604.8,282.4 L604.8,218.4 L610.2,209.7 L679.8,209.7 L684.7,219.2 L684.7,282.4" fill="none" stroke="#1b1b1b" stroke-width="1.7" />
<line x1="604" y1="282.6" x2="685.4" y2="282.6" stroke="#1b1b1b" stroke-width="1.9" />
<line x1="609" y1="212.8" x2="678.8" y2="212.8" stroke="#1b1b1b" stroke-width="0.9" />
<line x1="609" y1="212.8" x2="609" y2="272.2" stroke="#1b1b1b" stroke-width="0.8" />
<line x1="610.7" y1="212.8" x2="610.7" y2="272.2" stroke="#1b1b1b" stroke-width="0.8" />
<line x1="613.2" y1="212.8" x2="613.2" y2="272.2" stroke="#1b1b1b" stroke-width="0.8" />
<line x1="676.6" y1="212.8" x2="676.6" y2="272.2" stroke="#1b1b1b" stroke-width="0.8" />
<line x1="679" y1="212.8" x2="679" y2="272.2" stroke="#1b1b1b" stroke-width="0.8" />
<line x1="680.6" y1="212.8" x2="680.6" y2="272.2" stroke="#1b1b1b" stroke-width="0.8" />
<circle cx="611.9" cy="224" r="1.3" fill="#fff" stroke="#1b1b1b" stroke-width="0.8"/>
<circle cx="678.1" cy="224" r="1.3" fill="#fff" stroke="#1b1b1b" stroke-width="0.8"/>
<circle cx="611.9" cy="236.6" r="1.3" fill="#fff" stroke="#1b1b1b" stroke-width="0.8"/>
<circle cx="678.1" cy="236.6" r="1.3" fill="#fff" stroke="#1b1b1b" stroke-width="0.8"/>
<circle cx="611.9" cy="248.8" r="1.3" fill="#fff" stroke="#1b1b1b" stroke-width="0.8"/>
<circle cx="678.1" cy="248.8" r="1.3" fill="#fff" stroke="#1b1b1b" stroke-width="0.8"/>
<circle cx="611.9" cy="260.8" r="1.3" fill="#fff" stroke="#1b1b1b" stroke-width="0.8"/>
<circle cx="678.1" cy="260.8" r="1.3" fill="#fff" stroke="#1b1b1b" stroke-width="0.8"/>
<circle cx="620.2" cy="221.8" r="3.4" fill="none" stroke="#1b1b1b" stroke-width="1.0"/>
<circle cx="620.2" cy="221.8" r="1.87" fill="none" stroke="#1b1b1b" stroke-width="0.6"/>
<line x1="616.8" y1="221.8" x2="623.6" y2="221.8" stroke="#1b1b1b" stroke-width="0.6" />
<line x1="620.2" y1="218.4" x2="620.2" y2="225.2" stroke="#1b1b1b" stroke-width="0.6" />
<path d="M633,217 L656.4,217 L666.6,227.2 L666.6,245.2 L658.8,253 L631.8,253 L623.4,245.2 L623.4,227.2 Z" fill="none" stroke="#1b1b1b" stroke-width="1.2" />
<path d="M634.2,219.9 L655.2,219.9 L663.7,228.4 L663.7,244 L657.4,250.3 L633.2,250.3 L626.4,244 L626.4,228.4 Z" fill="none" stroke="#1b1b1b" stroke-width="0.9" />
<line x1="633" y1="217" x2="634.2" y2="219.9" stroke="#1b1b1b" stroke-width="0.7" />
<line x1="656.4" y1="217" x2="655.2" y2="219.9" stroke="#1b1b1b" stroke-width="0.7" />
<line x1="666.6" y1="227.2" x2="663.7" y2="228.4" stroke="#1b1b1b" stroke-width="0.7" />
<line x1="666.6" y1="245.2" x2="663.7" y2="244" stroke="#1b1b1b" stroke-width="0.7" />
<line x1="623.4" y1="227.2" x2="626.4" y2="228.4" stroke="#1b1b1b" stroke-width="0.7" />
<line x1="623.4" y1="245.2" x2="626.4" y2="244" stroke="#1b1b1b" stroke-width="0.7" />
<ellipse cx="645" cy="236.8" rx="14.45" ry="13.5" fill="none" stroke="#1b1b1b" stroke-width="1.3"/>
<ellipse cx="645" cy="236.8" rx="12.73" ry="11.9" fill="none" stroke="#1b1b1b" stroke-width="0.8"/>
<ellipse cx="645" cy="236.8" rx="9.52" ry="8.9" fill="none" stroke="#1b1b1b" stroke-width="1.3"/>
<ellipse cx="645" cy="236.8" rx="7.81" ry="7.3" fill="none" stroke="#1b1b1b" stroke-width="0.9"/>
<ellipse cx="645" cy="236.8" rx="5.35" ry="5" fill="none" stroke="#1b1b1b" stroke-width="0.9"/>
<ellipse cx="633" cy="259.7" rx="7.28" ry="6.8" fill="#fff" stroke="#1b1b1b" stroke-width="1.2"/>
<ellipse cx="633" cy="259.7" rx="5.46" ry="5.1" fill="none" stroke="#1b1b1b" stroke-width="0.9"/>
<line x1="627.6" y1="259.7" x2="638.4" y2="259.7" stroke="#1b1b1b" stroke-width="0.8" />
<line x1="633" y1="254.3" x2="633" y2="265.1" stroke="#1b1b1b" stroke-width="0.8" />
<ellipse cx="657" cy="260.8" rx="10.27" ry="9.6" fill="#fff" stroke="#1b1b1b" stroke-width="1.3"/>
<ellipse cx="657" cy="260.8" rx="8.67" ry="8.1" fill="none" stroke="#1b1b1b" stroke-width="0.9"/>
<line x1="648.4" y1="260.8" x2="665.6" y2="260.8" stroke="#1b1b1b" stroke-width="0.8" />
<line x1="657" y1="252.2" x2="657" y2="269.4" stroke="#1b1b1b" stroke-width="0.8" />
<path d="M604.8,274 Q604.8,272.2 607,272.2 L622.4,272.2 Q624.6,272.2 624.6,274.4 L624.6,282.4" fill="none" stroke="#1b1b1b" stroke-width="1.3" />
<path d="M665.4,282.4 L665.4,274.4 Q665.4,272.2 667.6,272.2 L682.4,272.2 Q684.7,272.2 684.7,274.4 L684.7,282.4 Z" fill="url(#hatch)" stroke="#1b1b1b" stroke-width="1.1" />
<path d="M670.6,282.6 L670.6,278.6 Q670.6,276.2 672.8,276.2 L677.8,276.2 Q680,276.2 680,278.6 L680,282.6 Z" fill="#fff" stroke="#1b1b1b" stroke-width="0.7" />
<line x1="672.7" y1="272.4" x2="672.7" y2="310.8" stroke="#1b1b1b" stroke-width="0.9" />
<line x1="678" y1="272.4" x2="678" y2="310.8" stroke="#1b1b1b" stroke-width="0.9" />
<line x1="675.2" y1="270.5" x2="675.2" y2="320.2" stroke="#333" stroke-width="0.7" stroke-dasharray="12 1.5 2.5 1.5"/>
<path d="M684.7,228.6 Q690.2,235 690,243 Q689.8,251 684.7,256.8" fill="none" stroke="#1b1b1b" stroke-width="1.8" />
<path d="M684.7,232.5 Q687.6,237 687.6,243 Q687.6,249 684.7,253" fill="none" stroke="#1b1b1b" stroke-width="0.8" />
<line x1="589.3" y1="236.8" x2="690" y2="236.8" stroke="#222" stroke-width="0.9" />
<line x1="645" y1="195" x2="645" y2="284.8" stroke="#222" stroke-width="0.9" />
<line x1="604.8" y1="177" x2="604.8" y2="218" stroke="#262626" stroke-width="0.95" />
<line x1="685" y1="177.6" x2="685" y2="219" stroke="#262626" stroke-width="0.95" />
<line x1="604.8" y1="179.7" x2="685" y2="179.7" stroke="#1e1e1e" stroke-width="1.05" />
<polygon points="604.8,179.7 611.8,178.2 611.8,181.2" fill="#0a0a0a"/>
<polygon points="685,179.7 678,178.2 678,181.2" fill="#0a0a0a"/>
<text x="645.3" y="177.2" font-family="Liberation Serif" font-size="10.8" text-anchor="middle" fill="#0e0e0e" stroke="#0e0e0e" stroke-width="0.34" textLength="17.5" lengthAdjust="spacingAndGlyphs" >670</text>
<line x1="689.4" y1="195" x2="689.4" y2="232" stroke="#262626" stroke-width="0.95" />
<line x1="645" y1="197.6" x2="689.4" y2="197.6" stroke="#1e1e1e" stroke-width="1.05" />
<polygon points="645,197.6 652,196.1 652,199.1" fill="#0a0a0a"/>
<polygon points="689.4,197.6 682.4,196.1 682.4,199.1" fill="#0a0a0a"/>
<text x="667.6" y="195" font-family="Liberation Serif" font-size="10.8" text-anchor="middle" fill="#0e0e0e" stroke="#0e0e0e" stroke-width="0.34" textLength="16.85" lengthAdjust="spacingAndGlyphs" >AD</text>
<line x1="571.3" y1="209.7" x2="610" y2="209.7" stroke="#262626" stroke-width="0.95" />
<line x1="571.3" y1="282.6" x2="605" y2="282.6" stroke="#262626" stroke-width="0.95" />
<line x1="573.7" y1="209.7" x2="573.7" y2="282.6" stroke="#1e1e1e" stroke-width="1.05" />
<polygon points="573.7,209.7 572.2,216.7 575.2,216.7" fill="#0a0a0a"/>
<polygon points="573.7,282.6 572.2,275.6 575.2,275.6" fill="#0a0a0a"/>
<text transform="translate(571 246.3) rotate(-90)" font-family="Liberation Serif" font-size="10.8" text-anchor="middle" fill="#0e0e0e" stroke="#0e0e0e" stroke-width="0.34" textLength="17.5" lengthAdjust="spacingAndGlyphs" >675</text>
<line x1="591.6" y1="236.8" x2="591.6" y2="282.6" stroke="#1e1e1e" stroke-width="1.05" />
<polygon points="591.6,236.8 590.1,243.8 593.1,243.8" fill="#0a0a0a"/>
<polygon points="591.6,282.6 590.1,275.6 593.1,275.6" fill="#0a0a0a"/>
<text transform="translate(588.6 259) rotate(-90)" text-anchor="middle" font-family="Liberation Serif" font-size="10.8" fill="#161616" stroke="#0e0e0e" stroke-width="0.34">425<tspan font-size="6.2">.1</tspan></text>
<line x1="615.3" y1="270" x2="615.3" y2="320.8" stroke="#333" stroke-width="0.7" stroke-dasharray="12 1.5 2.5 1.5"/>
<line x1="604.8" y1="283" x2="604.8" y2="336.8" stroke="#262626" stroke-width="0.95" />
<line x1="624.6" y1="283" x2="624.6" y2="304.8" stroke="#262626" stroke-width="0.95" />
<line x1="590" y1="303" x2="640" y2="303" stroke="#1e1e1e" stroke-width="1.05" />
<polygon points="604.8,303 597.8,301.5 597.8,304.5" fill="#0a0a0a"/>
<polygon points="624.6,303 631.6,301.5 631.6,304.5" fill="#0a0a0a"/>
<text x="615" y="300.6" font-family="Liberation Serif" font-size="10.8" text-anchor="middle" fill="#0e0e0e" stroke="#0e0e0e" stroke-width="0.34" textLength="17.5" lengthAdjust="spacingAndGlyphs" >160</text>
<line x1="615.3" y1="319.6" x2="675.2" y2="319.6" stroke="#1e1e1e" stroke-width="1.05" />
<polygon points="615.3,319.6 622.3,318.1 622.3,321.1" fill="#0a0a0a"/>
<polygon points="675.2,319.6 668.2,318.1 668.2,321.1" fill="#0a0a0a"/>
<text x="645.3" y="316.5" font-family="Liberation Serif" font-size="10.8" text-anchor="middle" fill="#0e0e0e" stroke="#0e0e0e" stroke-width="0.34" textLength="17.5" lengthAdjust="spacingAndGlyphs" >500</text>
<line x1="684.7" y1="283" x2="684.7" y2="336.8" stroke="#262626" stroke-width="0.95" />
<line x1="604.8" y1="335" x2="684.7" y2="335" stroke="#1e1e1e" stroke-width="1.05" />
<polygon points="604.8,335 611.8,333.5 611.8,336.5" fill="#0a0a0a"/>
<polygon points="684.7,335 677.7,333.5 677.7,336.5" fill="#0a0a0a"/>
<text x="645.3" y="332" font-family="Liberation Serif" font-size="10.8" text-anchor="middle" fill="#0e0e0e" stroke="#0e0e0e" stroke-width="0.34" textLength="17.5" lengthAdjust="spacingAndGlyphs" >660</text>
<line x1="657.3" y1="309" x2="717.3" y2="309" stroke="#1e1e1e" stroke-width="1.05" />
<polygon points="672.7,309 665.7,307.5 665.7,310.5" fill="#0a0a0a"/>
<polygon points="678,309 685,307.5 685,310.5" fill="#0a0a0a"/>
<text x="704.7" y="306.7" font-family="Liberation Serif" font-size="10.8" text-anchor="middle" fill="#0e0e0e" stroke="#0e0e0e" stroke-width="0.34" textLength="20.09" lengthAdjust="spacingAndGlyphs" >Ø39</text>
<line x1="684.7" y1="272.2" x2="717.3" y2="272.2" stroke="#262626" stroke-width="0.95" />
<line x1="684.7" y1="282.8" x2="717.3" y2="282.8" stroke="#262626" stroke-width="0.95" />
<line x1="715.3" y1="239" x2="715.3" y2="272.2" stroke="#1e1e1e" stroke-width="1.05" />
<polygon points="715.3,272.2 713.8,265.2 716.8,265.2" fill="#0a0a0a"/>
<line x1="715.3" y1="282.8" x2="715.3" y2="296.8" stroke="#1e1e1e" stroke-width="1.05" />
<polygon points="715.3,282.8 713.8,289.8 716.8,289.8" fill="#0a0a0a"/>
<text transform="translate(712.6 248.3) rotate(-90)" font-family="Liberation Serif" font-size="10.8" text-anchor="middle" fill="#0e0e0e" stroke="#0e0e0e" stroke-width="0.34" textLength="17.5" lengthAdjust="spacingAndGlyphs" >100</text>
</g>
<g id="grf167-side">
<g class="grf-side">
<line x1="267.6" y1="503.6" x2="292" y2="503.6" stroke="#1b1b1b" stroke-width="1.5" />
<line x1="267.6" y1="517.1" x2="292" y2="517.1" stroke="#1b1b1b" stroke-width="1.5" />
<path d="M268.4,503.6 Q267.2,503.6 267.2,504.8 L267.2,515.9 Q267.2,517.1 268.4,517.1" fill="none" stroke="#1b1b1b" stroke-width="1.1" />
<rect x="292.7" y="502" width="4.5" height="16.8" rx="0" fill="none" stroke="#1b1b1b" stroke-width="1.3"/>
<path d="M296.8,498.7 Q302.4,510.3 296.8,522.1" fill="none" stroke="#1b1b1b" stroke-width="1.1" />
<path d="M296.8,498.7 L291.8,494.1 L291.8,481.5 Q291.8,480.5 292.8,480.5 L294.5,480.5 Q295.5,480.5 295.5,481.5 L295.5,487.9 Q295.8,490.3 298.5,490.3 L308.3,489.7" fill="none" stroke="#1b1b1b" stroke-width="1.5" />
<path d="M296.8,522.1 L291.8,526.7 L291.8,539.6 Q291.8,540.6 292.8,540.6 L294.5,540.6 Q295.5,540.6 295.5,539.6 L295.5,532.3 Q295.8,530.2 298.5,530.2 L308.3,530.2" fill="none" stroke="#1b1b1b" stroke-width="1.5" />
<line x1="297.3" y1="526" x2="308.3" y2="526" stroke="#1b1b1b" stroke-width="0.9" />
<line x1="297.4" y1="501.7" x2="308.3" y2="501.7" stroke="#2c2c2c" stroke-width="0.75" />
<line x1="297.4" y1="519" x2="308.3" y2="519" stroke="#2c2c2c" stroke-width="0.75" />
<path d="M338.4,484.1 L309.3,484.1 Q308.3,484.1 308.3,485.1 L308.3,542.9 L310.7,547.2 L334.2,547.2" fill="none" stroke="#1b1b1b" stroke-width="1.5" />
<line x1="308.8" y1="484.4" x2="338.4" y2="484.4" stroke="#1b1b1b" stroke-width="1.8" />
<line x1="310.9" y1="487.1" x2="310.9" y2="546.8" stroke="#1b1b1b" stroke-width="0.9" />
<line x1="312.2" y1="487.1" x2="312.2" y2="546.8" stroke="#2c2c2c" stroke-width="0.6" />
<line x1="334.2" y1="487.1" x2="334.2" y2="546.8" stroke="#2c2c2c" stroke-width="0.8" />
<line x1="335.6" y1="487.1" x2="335.6" y2="546.8" stroke="#1b1b1b" stroke-width="0.8" />
<line x1="310.9" y1="487.1" x2="334.2" y2="487.1" stroke="#2c2c2c" stroke-width="0.8" />
<path d="M332.2,486.9 L337.4,485.3" fill="none" stroke="#1b1b1b" stroke-width="1.3" />
<rect x="310.9" y="508.8" width="23.3" height="2.8" rx="0" fill="#6e6e6e" stroke="#1b1b1b" stroke-width="0.9"/>
<line x1="310.9" y1="496.6" x2="334.2" y2="496.6" stroke="#1b1b1b" stroke-width="0.9" />
<line x1="310.9" y1="498.9" x2="334.2" y2="498.9" stroke="#1b1b1b" stroke-width="0.9" />
<line x1="310.9" y1="521.8" x2="334.2" y2="521.8" stroke="#1b1b1b" stroke-width="0.9" />
<line x1="310.9" y1="524.1" x2="334.2" y2="524.1" stroke="#1b1b1b" stroke-width="0.9" />
<line x1="310.9" y1="541.7" x2="334.2" y2="541.7" stroke="#2c2c2c" stroke-width="0.8" />
<line x1="337.8" y1="483.5" x2="337.8" y2="557.6" stroke="#1b1b1b" stroke-width="1.0" />
<line x1="340.4" y1="483.5" x2="340.4" y2="557.6" stroke="#1b1b1b" stroke-width="0.9" />
<line x1="342" y1="483.5" x2="342" y2="557.6" stroke="#2c2c2c" stroke-width="0.7" />
<path d="M334.2,547.2 L334.2,555.8 Q334.2,557.9 336.4,557.9 L359.4,557.9 Q361.4,557.9 361.4,555.8 L361.4,485.5 Q361.4,483.4 359.4,483.4 L337.4,483.4" fill="none" stroke="#1b1b1b" stroke-width="1.5" />
<line x1="360.2" y1="486.3" x2="360.2" y2="555.3" stroke="#2c2c2c" stroke-width="0.6" stroke-dasharray="5 1.5"/>
<line x1="342" y1="494.8" x2="361.4" y2="494.8" stroke="#2c2c2c" stroke-width="0.75" />
<line x1="354.4" y1="544.9" x2="361.4" y2="544.9" stroke="#2c2c2c" stroke-width="0.75" />
<path d="M361.4,487.1 L365,487.1 L365,547.7 L361.4,547.7" fill="none" stroke="#1b1b1b" stroke-width="1.3" />
<line x1="365" y1="500" x2="373.6" y2="500" stroke="#1b1b1b" stroke-width="1.1" />
<line x1="365" y1="534.6" x2="373.6" y2="534.6" stroke="#1b1b1b" stroke-width="1.1" />
<line x1="366.8" y1="500" x2="366.8" y2="534.6" stroke="#2c2c2c" stroke-width="0.7" />
<circle cx="315.6" cy="534.7" r="2.9" fill="none" stroke="#1b1b1b" stroke-width="1.0"/>
<circle cx="315.6" cy="534.7" r="1.59" fill="none" stroke="#1b1b1b" stroke-width="0.6"/>
<line x1="312.7" y1="534.7" x2="318.5" y2="534.7" stroke="#1b1b1b" stroke-width="0.6" />
<line x1="315.6" y1="531.8" x2="315.6" y2="537.6" stroke="#1b1b1b" stroke-width="0.6" />
<line x1="309.5" y1="534.7" x2="312.2" y2="534.7" stroke="#1b1b1b" stroke-width="0.7" />
<line x1="319.2" y1="533.9" x2="333.6" y2="533.9" stroke="#1b1b1b" stroke-width="0.6" />
<line x1="319.2" y1="535.5" x2="333.6" y2="535.5" stroke="#1b1b1b" stroke-width="0.6" />
</g>
<g class="motor">
<path d="M380.8,491 L377,491 Q373.6,491 373.6,494.5 L373.6,539.7 Q373.6,543.2 377,543.2 L380.8,543.2" fill="none" stroke="#1b1b1b" stroke-width="1.5" />
<line x1="380.8" y1="491" x2="380.8" y2="543.2" stroke="#1b1b1b" stroke-width="1.0" />
<line x1="376.2" y1="496" x2="376.2" y2="538.2" stroke="#2c2c2c" stroke-width="0.7" />
<rect x="376.6" y="491.6" width="3.6" height="3.6" rx="1" fill="none" stroke="#1b1b1b" stroke-width="0.8"/>
<rect x="376.6" y="539" width="3.6" height="3.6" rx="1" fill="none" stroke="#1b1b1b" stroke-width="0.8"/>
<line x1="380.8" y1="491.3" x2="425" y2="491.3" stroke="#1b1b1b" stroke-width="1.9" />
<line x1="380.8" y1="542.9" x2="425" y2="542.9" stroke="#1b1b1b" stroke-width="1.9" />
<line x1="380.8" y1="494.1" x2="424.8" y2="494.1" stroke="#2c2c2c" stroke-width="0.8" />
<line x1="380.8" y1="497.9" x2="424.8" y2="497.9" stroke="#2c2c2c" stroke-width="0.8" />
<line x1="380.8" y1="502.7" x2="424.8" y2="502.7" stroke="#2c2c2c" stroke-width="0.8" />
<line x1="380.8" y1="533.9" x2="424.8" y2="533.9" stroke="#2c2c2c" stroke-width="0.8" />
<line x1="380.8" y1="537.2" x2="424.8" y2="537.2" stroke="#2c2c2c" stroke-width="0.8" />
<line x1="380.8" y1="540.3" x2="424.8" y2="540.3" stroke="#2c2c2c" stroke-width="0.8" />
<rect x="382.4" y="503.5" width="26.4" height="27.2" rx="0" fill="none" stroke="#1b1b1b" stroke-width="1.2"/>
<rect x="386" y="504.9" width="19.8" height="3.4" rx="0" fill="#fff" stroke="#1b1b1b" stroke-width="0.9"/>
<rect x="386" y="526.7" width="19.8" height="3.1" rx="0" fill="#fff" stroke="#1b1b1b" stroke-width="0.9"/>
<rect x="383.2" y="508.5" width="24.8" height="3" rx="0" fill="#9a9a9a" stroke="#1b1b1b" stroke-width="0.6"/>
<rect x="383.2" y="523.3" width="24.8" height="3.2" rx="0" fill="#9a9a9a" stroke="#1b1b1b" stroke-width="0.6"/>
<rect x="383.1" y="504.2" width="1.8" height="1.8" rx="0" fill="none" stroke="#1b1b1b" stroke-width="0.6"/>
<rect x="406.3" y="504.2" width="1.8" height="1.8" rx="0" fill="none" stroke="#1b1b1b" stroke-width="0.6"/>
<rect x="383.1" y="528.2" width="1.8" height="1.8" rx="0" fill="none" stroke="#1b1b1b" stroke-width="0.6"/>
<rect x="406.3" y="528.2" width="1.8" height="1.8" rx="0" fill="none" stroke="#1b1b1b" stroke-width="0.6"/>
<line x1="408.8" y1="505.2" x2="424.8" y2="505.2" stroke="#2c2c2c" stroke-width="0.7" />
<line x1="408.8" y1="508.4" x2="424.8" y2="508.4" stroke="#2c2c2c" stroke-width="0.7" />
<line x1="408.8" y1="511.6" x2="424.8" y2="511.6" stroke="#2c2c2c" stroke-width="0.7" />
<line x1="408.8" y1="514.5" x2="424.8" y2="514.5" stroke="#2c2c2c" stroke-width="0.7" />
<line x1="408.8" y1="519.7" x2="424.8" y2="519.7" stroke="#2c2c2c" stroke-width="0.7" />
<line x1="408.8" y1="522.7" x2="424.8" y2="522.7" stroke="#2c2c2c" stroke-width="0.7" />
<line x1="408.8" y1="525.9" x2="424.8" y2="525.9" stroke="#2c2c2c" stroke-width="0.7" />
<line x1="408.8" y1="529.1" x2="424.8" y2="529.1" stroke="#2c2c2c" stroke-width="0.7" />
<rect x="409.8" y="514.8" width="14.4" height="4.6" rx="0" fill="#fff" stroke="#1b1b1b" stroke-width="0.8"/>
<rect x="417.6" y="515.2" width="2.6" height="3.8" rx="0" fill="#444" stroke="#1b1b1b" stroke-width="0.6"/>
<rect x="421.4" y="515.7" width="2.2" height="2.8" rx="0" fill="#333" stroke="#1b1b1b" stroke-width="0.6"/>
<line x1="409.8" y1="517.1" x2="417.6" y2="517.1" stroke="#1b1b1b" stroke-width="0.6" />
<rect x="376" y="514.7" width="5.8" height="4.8" rx="0.8" fill="none" stroke="#1b1b1b" stroke-width="0.9"/>
<path d="M424.8,490.3 L446.8,490.3 Q448.2,490.3 449.4,491.2 L454.6,495 Q455.5,495.8 455.5,497.2 L455.5,537 Q455.5,538.4 454.6,539.2 L449.4,543 Q448.2,543.9 446.8,543.9 L424.8,543.9 Z" fill="none" stroke="#1b1b1b" stroke-width="1.5" />
<line x1="445.6" y1="490.3" x2="445.6" y2="543.9" stroke="#2c2c2c" stroke-width="0.85" />
<line x1="426.6" y1="490.3" x2="426.6" y2="543.9" stroke="#2c2c2c" stroke-width="0.75" />
<line x1="426.6" y1="501.1" x2="445.6" y2="501.1" stroke="#2c2c2c" stroke-width="0.7" />
<line x1="426.6" y1="533.5" x2="445.6" y2="533.5" stroke="#2c2c2c" stroke-width="0.7" />
<line x1="349.5" y1="517.1" x2="458" y2="517.1" stroke="#333" stroke-width="0.7" stroke-dasharray="12 1.5 2.5 1.5"/>
</g>
<line x1="262" y1="510.3" x2="357.5" y2="510.3" stroke="#333" stroke-width="0.7" stroke-dasharray="12 1.5 2.5 1.5"/>
<line x1="267.4" y1="437.6" x2="267.4" y2="503" stroke="#262626" stroke-width="0.95" />
<line x1="361.9" y1="437.6" x2="361.9" y2="483.2" stroke="#262626" stroke-width="0.95" />
<line x1="455.5" y1="437.6" x2="455.5" y2="490.4" stroke="#262626" stroke-width="0.95" />
<line x1="267.4" y1="440.2" x2="361.9" y2="440.2" stroke="#1e1e1e" stroke-width="1.05" />
<polygon points="267.4,440.2 274.4,438.7 274.4,441.7" fill="#0a0a0a"/>
<polygon points="361.9,440.2 354.9,438.7 354.9,441.7" fill="#0a0a0a"/>
<line x1="361.9" y1="440.2" x2="455.5" y2="440.2" stroke="#1e1e1e" stroke-width="1.05" />
<polygon points="361.9,440.2 368.9,438.7 368.9,441.7" fill="#0a0a0a"/>
<polygon points="455.5,440.2 448.5,438.7 448.5,441.7" fill="#0a0a0a"/>
<text x="314.3" y="437.2" font-family="Liberation Serif" font-size="10.8" text-anchor="middle" fill="#0e0e0e" stroke="#0e0e0e" stroke-width="0.34" textLength="17.5" lengthAdjust="spacingAndGlyphs" >790</text>
<text x="408.3" y="436.9" font-family="Liberation Serif" font-size="10.8" text-anchor="middle" fill="#0e0e0e" stroke="#0e0e0e" stroke-width="0.34" textLength="7.12" lengthAdjust="spacingAndGlyphs" >L</text>
<line x1="292.5" y1="468.6" x2="292.5" y2="480.4" stroke="#262626" stroke-width="0.95" />
<line x1="267.4" y1="472.3" x2="292.5" y2="472.3" stroke="#1e1e1e" stroke-width="1.05" />
<polygon points="267.4,472.3 274.4,470.8 274.4,473.8" fill="#0a0a0a"/>
<polygon points="292.5,472.3 285.5,470.8 285.5,473.8" fill="#0a0a0a"/>
<text x="280" y="470" font-family="Liberation Serif" font-size="10.8" text-anchor="middle" fill="#0e0e0e" stroke="#0e0e0e" stroke-width="0.34" textLength="17.5" lengthAdjust="spacingAndGlyphs" >210</text>
<line x1="250.4" y1="454" x2="250.4" y2="497" stroke="#1e1e1e" stroke-width="1.05" />
<polygon points="250.4,503.4 248.9,496.4 251.9,496.4" fill="#0a0a0a"/>
<line x1="250.4" y1="523" x2="250.4" y2="531" stroke="#1e1e1e" stroke-width="1.05" />
<polygon points="250.4,516.6 248.9,523.6 251.9,523.6" fill="#0a0a0a"/>
<line x1="250.4" y1="503.4" x2="250.4" y2="516.6" stroke="#1e1e1e" stroke-width="1.05" />
<line x1="247.6" y1="503.4" x2="267.4" y2="503.4" stroke="#262626" stroke-width="0.95" />
<line x1="247.6" y1="516.6" x2="267.4" y2="516.6" stroke="#262626" stroke-width="0.95" />
<text transform="translate(244.8 487) rotate(-90)" font-family="Liberation Serif" font-size="10.8" fill="#161616" stroke="#0e0e0e" stroke-width="0.34">Ø120<tspan font-size="6.5" dy="1.8">k6</tspan></text>
<path d="M267.4,510.2 L263.6,513.4 L263.6,545.9 L216.7,545.9" fill="none" stroke="#1e1e1e" stroke-width="0.95" />
<text x="218.3" y="544" font-family="Liberation Serif" font-size="10.2" text-anchor="start" fill="#0e0e0e" stroke="#0e0e0e" stroke-width="0.34" textLength="20" lengthAdjust="spacingAndGlyphs" >M24</text>
<text x="238.4" y="543.9" font-family="'Liberation Serif', 'Noto Serif CJK SC', serif" font-size="9.8" text-anchor="start" fill="#222">深</text>
<text x="248.3" y="544" font-family="Liberation Serif" font-size="10.2" text-anchor="start" fill="#0e0e0e" stroke="#0e0e0e" stroke-width="0.34" textLength="12.8" lengthAdjust="spacingAndGlyphs" >60</text>
<text x="218.3" y="555.2" font-family="Liberation Serif" font-size="10.4" text-anchor="start" fill="#0e0e0e" stroke="#0e0e0e" stroke-width="0.34" textLength="44.8" lengthAdjust="spacingAndGlyphs" >GB/T 145</text>
<text x="218.3" y="566.9" font-family="Liberation Serif" font-size="10.4" text-anchor="start" fill="#0e0e0e" stroke="#0e0e0e" stroke-width="0.34" textLength="39.5" lengthAdjust="spacingAndGlyphs" >DIN 332</text>
<line x1="353.4" y1="496.6" x2="353.4" y2="504" stroke="#1e1e1e" stroke-width="1.05" />
<polygon points="353.4,510.1 351.9,503.1 354.9,503.1" fill="#0a0a0a"/>
<line x1="353.4" y1="523.2" x2="353.4" y2="553.6" stroke="#1e1e1e" stroke-width="1.05" />
<polygon points="353.4,517 351.9,524 354.9,524" fill="#0a0a0a"/>
<line x1="349.8" y1="510.1" x2="357.4" y2="510.1" stroke="#262626" stroke-width="0.8" />
<text transform="translate(351 551) rotate(-90)" font-family="Liberation Serif" font-size="11.2" text-anchor="start" fill="#0e0e0e" stroke="#0e0e0e" stroke-width="0.34" textLength="18.4" lengthAdjust="spacingAndGlyphs" >59.9</text>
<line x1="449.6" y1="490.7" x2="476" y2="490.7" stroke="#262626" stroke-width="0.95" />
<line x1="449.6" y1="543.6" x2="476" y2="543.6" stroke="#262626" stroke-width="0.95" />
<line x1="473.8" y1="490.7" x2="473.8" y2="543.6" stroke="#1e1e1e" stroke-width="1.05" />
<polygon points="473.8,490.7 472.3,497.7 475.3,497.7" fill="#0a0a0a"/>
<polygon points="473.8,543.6 472.3,536.6 475.3,536.6" fill="#0a0a0a"/>
<text transform="translate(470.8 517.2) rotate(-90)" font-family="Liberation Serif" font-size="10.8" text-anchor="middle" fill="#0e0e0e" stroke="#0e0e0e" stroke-width="0.34" textLength="16.2" lengthAdjust="spacingAndGlyphs" >AC</text>
</g>
<g id="grf167-front">
<g class="grf-front">
<path d="M610.3,482.9 L679.8,482.9 L685.2,493.3 L685.2,546.1 L672.1,557.2 L618,557.2 L604.9,546.1 L604.9,493.3 Z" fill="none" stroke="#1b1b1b" stroke-width="1.8" />
<line x1="609" y1="487.3" x2="609" y2="540.6" stroke="#1b1b1b" stroke-width="0.85" />
<line x1="611.3" y1="487.3" x2="611.3" y2="540.6" stroke="#1b1b1b" stroke-width="0.85" />
<line x1="614" y1="487.3" x2="614" y2="540.6" stroke="#1b1b1b" stroke-width="0.85" />
<line x1="680.6" y1="487.3" x2="680.6" y2="540.6" stroke="#1b1b1b" stroke-width="0.85" />
<line x1="677.9" y1="487.3" x2="677.9" y2="540.6" stroke="#1b1b1b" stroke-width="0.85" />
<line x1="610.3" y1="485.3" x2="679.8" y2="485.3" stroke="#1b1b1b" stroke-width="0.85" />
<path d="M609,540.6 L622,548.8 L667.9,548.8 L680.6,540.6" fill="none" stroke="#1b1b1b" stroke-width="0.9" />
<path d="M614,539.6 L623,546.8 L666.9,546.8 L677.9,539.6" fill="none" stroke="#1b1b1b" stroke-width="0.9" />
<line x1="609" y1="498" x2="614" y2="498" stroke="#1b1b1b" stroke-width="0.8" />
<line x1="677.9" y1="498" x2="680.6" y2="498" stroke="#1b1b1b" stroke-width="0.8" />
<line x1="609" y1="522.7" x2="614" y2="522.7" stroke="#1b1b1b" stroke-width="0.8" />
<line x1="677.9" y1="522.7" x2="680.6" y2="522.7" stroke="#1b1b1b" stroke-width="0.8" />
<ellipse cx="611.6" cy="534.7" rx="1.2" ry="1.2" fill="none" stroke="#1b1b1b" stroke-width="0.7"/>
<ellipse cx="677.9" cy="534.7" rx="1.2" ry="1.2" fill="none" stroke="#1b1b1b" stroke-width="0.7"/>
<ellipse cx="611.6" cy="489.4" rx="1.2" ry="1.2" fill="none" stroke="#1b1b1b" stroke-width="0.7"/>
<ellipse cx="677.9" cy="489.4" rx="1.2" ry="1.2" fill="none" stroke="#1b1b1b" stroke-width="0.7"/>
<ellipse cx="658.4" cy="537.4" rx="10.03" ry="9.3" fill="none" stroke="#1b1b1b" stroke-width="1.0"/>
<ellipse cx="658.4" cy="537.4" rx="8.19" ry="7.6" fill="none" stroke="#1b1b1b" stroke-width="0.7"/>
<ellipse cx="644.6" cy="510.4" rx="32.56" ry="30.2" fill="#fff" stroke="#1b1b1b" stroke-width="1.9"/>
<ellipse cx="644.6" cy="510.4" rx="30.62" ry="28.4" fill="none" stroke="#1b1b1b" stroke-width="0.8"/>
<ellipse cx="644.6" cy="510.4" rx="28.57" ry="26.5" fill="none" stroke="#1b1b1b" stroke-width="0.9"/>
<ellipse cx="644.6" cy="510.4" rx="25.23" ry="23.4" fill="none" stroke="#1b1b1b" stroke-width="0.8"/>
<ellipse cx="644.6" cy="510.4" rx="23.61" ry="21.9" fill="none" stroke="#1b1b1b" stroke-width="0.8"/>
<ellipse cx="672.98" cy="521.31" rx="0.55" ry="0.55" fill="#222" stroke="#1b1b1b" stroke-width="0.5"/>
<ellipse cx="656.36" cy="536.73" rx="0.55" ry="0.55" fill="#222" stroke="#1b1b1b" stroke-width="0.5"/>
<ellipse cx="632.84" cy="536.73" rx="0.55" ry="0.55" fill="#222" stroke="#1b1b1b" stroke-width="0.5"/>
<ellipse cx="616.22" cy="521.31" rx="0.55" ry="0.55" fill="#222" stroke="#1b1b1b" stroke-width="0.5"/>
<ellipse cx="616.22" cy="499.49" rx="0.55" ry="0.55" fill="#222" stroke="#1b1b1b" stroke-width="0.5"/>
<ellipse cx="632.84" cy="484.07" rx="0.55" ry="0.55" fill="#222" stroke="#1b1b1b" stroke-width="0.5"/>
<ellipse cx="656.36" cy="484.07" rx="0.55" ry="0.55" fill="#222" stroke="#1b1b1b" stroke-width="0.5"/>
<ellipse cx="672.98" cy="499.49" rx="0.55" ry="0.55" fill="#222" stroke="#1b1b1b" stroke-width="0.5"/>
<ellipse cx="644.6" cy="510.4" rx="13.48" ry="12.5" fill="none" stroke="#1b1b1b" stroke-width="0.9"/>
<ellipse cx="644.6" cy="510.4" rx="8.84" ry="8.2" fill="none" stroke="#1b1b1b" stroke-width="1.3"/>
<ellipse cx="644.6" cy="510.4" rx="6.47" ry="6" fill="none" stroke="#1b1b1b" stroke-width="0.9"/>
<path d="M685.2,503.2 Q690.6,509.4 690.4,517.2 Q690.2,524.9 685.2,530.6" fill="none" stroke="#1b1b1b" stroke-width="1.8" />
<path d="M685.2,506.9 Q688,511.4 688,517.2 Q688,522.9 685.2,527.2" fill="none" stroke="#1b1b1b" stroke-width="0.8" />
</g>
<line x1="584" y1="510.4" x2="691.4" y2="510.4" stroke="#222" stroke-width="0.9" />
<line x1="644.6" y1="458" x2="644.6" y2="549" stroke="#222" stroke-width="0.9" />
<line x1="689.5" y1="458" x2="689.5" y2="517" stroke="#262626" stroke-width="0.95" />
<line x1="644.6" y1="460.6" x2="689.5" y2="460.6" stroke="#1e1e1e" stroke-width="1.05" />
<polygon points="644.6,460.6 651.6,459.1 651.6,462.1" fill="#0a0a0a"/>
<polygon points="689.5,460.6 682.5,459.1 682.5,462.1" fill="#0a0a0a"/>
<text x="668" y="457.5" font-family="Liberation Serif" font-size="10.8" text-anchor="middle" fill="#0e0e0e" stroke="#0e0e0e" stroke-width="0.34" textLength="16.85" lengthAdjust="spacingAndGlyphs" >AD</text>
<line x1="584" y1="557.2" x2="618" y2="557.2" stroke="#262626" stroke-width="0.95" />
<line x1="586.8" y1="510.4" x2="586.8" y2="557.2" stroke="#1e1e1e" stroke-width="1.05" />
<polygon points="586.8,510.4 585.3,517.4 588.3,517.4" fill="#0a0a0a"/>
<polygon points="586.8,557.2 585.3,550.2 588.3,550.2" fill="#0a0a0a"/>
<text transform="translate(584.4 534) rotate(-90)" font-family="Liberation Serif" font-size="10.8" text-anchor="middle" fill="#0e0e0e" stroke="#0e0e0e" stroke-width="0.34" textLength="17.5" lengthAdjust="spacingAndGlyphs" >430</text>
<line x1="604.9" y1="546" x2="604.9" y2="577.8" stroke="#262626" stroke-width="0.95" />
<line x1="685.2" y1="546" x2="685.2" y2="577.8" stroke="#262626" stroke-width="0.95" />
<line x1="604.9" y1="575.4" x2="685.2" y2="575.4" stroke="#1e1e1e" stroke-width="1.05" />
<polygon points="604.9,575.4 611.9,573.9 611.9,576.9" fill="#0a0a0a"/>
<polygon points="685.2,575.4 678.2,573.9 678.2,576.9" fill="#0a0a0a"/>
<text x="645.4" y="572.8" font-family="Liberation Serif" font-size="10.8" text-anchor="middle" fill="#0e0e0e" stroke="#0e0e0e" stroke-width="0.34" textLength="17.5" lengthAdjust="spacingAndGlyphs" >670</text>
</g>
<g id="f550">
<g class="grf-side">
<line x1="90.8" y1="725.5" x2="114.6" y2="725.5" stroke="#1b1b1b" stroke-width="1.5" />
<line x1="90.8" y1="739" x2="114.6" y2="739" stroke="#1b1b1b" stroke-width="1.5" />
<path d="M91.6,725.5 Q90.4,725.5 90.4,726.7 L90.4,737.8 Q90.4,739 91.6,739" fill="none" stroke="#1b1b1b" stroke-width="1.1" />
<rect x="115.3" y="723.9" width="4.5" height="16.8" rx="0" fill="none" stroke="#1b1b1b" stroke-width="1.3"/>
<path d="M119.4,720.6 Q125,732.2 119.4,744" fill="none" stroke="#1b1b1b" stroke-width="1.1" />
<path d="M119.4,720.6 L114.4,716 L114.4,702.9 Q114.4,701.9 115.4,701.9 L117.4,701.9 Q118.4,701.9 118.4,702.9 L118.4,709.8 Q118.7,712.2 121.4,712.2 L131.2,711.6" fill="none" stroke="#1b1b1b" stroke-width="1.5" />
<path d="M119.4,744 L114.4,748.6 L114.4,761.5 Q114.4,762.5 115.4,762.5 L117.4,762.5 Q118.4,762.5 118.4,761.5 L118.4,754.2 Q118.7,752.1 121.4,752.1 L131.2,752.1" fill="none" stroke="#1b1b1b" stroke-width="1.5" />
<line x1="120.2" y1="747.9" x2="131.2" y2="747.9" stroke="#1b1b1b" stroke-width="0.9" />
<line x1="120" y1="723.6" x2="131.2" y2="723.6" stroke="#2c2c2c" stroke-width="0.75" />
<line x1="120" y1="740.9" x2="131.2" y2="740.9" stroke="#2c2c2c" stroke-width="0.75" />
<path d="M159.6,706 L132.2,706 Q131.2,706 131.2,707 L131.2,764.8 L133.6,769.1 L155.4,769.1" fill="none" stroke="#1b1b1b" stroke-width="1.5" />
<line x1="131.7" y1="706.3" x2="159.6" y2="706.3" stroke="#1b1b1b" stroke-width="1.8" />
<line x1="133.8" y1="709" x2="133.8" y2="768.7" stroke="#1b1b1b" stroke-width="0.9" />
<line x1="135.1" y1="709" x2="135.1" y2="768.7" stroke="#2c2c2c" stroke-width="0.6" />
<line x1="155.4" y1="709" x2="155.4" y2="768.7" stroke="#2c2c2c" stroke-width="0.8" />
<line x1="156.8" y1="709" x2="156.8" y2="768.7" stroke="#1b1b1b" stroke-width="0.8" />
<line x1="133.8" y1="709" x2="155.4" y2="709" stroke="#2c2c2c" stroke-width="0.8" />
<path d="M153.4,708.8 L158.6,707.2" fill="none" stroke="#1b1b1b" stroke-width="1.3" />
<rect x="133.8" y="730.7" width="21.6" height="2.8" rx="0" fill="#6e6e6e" stroke="#1b1b1b" stroke-width="0.9"/>
<line x1="133.8" y1="718.5" x2="155.4" y2="718.5" stroke="#1b1b1b" stroke-width="0.9" />
<line x1="133.8" y1="720.8" x2="155.4" y2="720.8" stroke="#1b1b1b" stroke-width="0.9" />
<line x1="133.8" y1="743.7" x2="155.4" y2="743.7" stroke="#1b1b1b" stroke-width="0.9" />
<line x1="133.8" y1="746" x2="155.4" y2="746" stroke="#1b1b1b" stroke-width="0.9" />
<line x1="133.8" y1="763.6" x2="155.4" y2="763.6" stroke="#2c2c2c" stroke-width="0.8" />
<line x1="159" y1="705.4" x2="159" y2="779.5" stroke="#1b1b1b" stroke-width="1.0" />
<line x1="161.6" y1="705.4" x2="161.6" y2="779.5" stroke="#1b1b1b" stroke-width="0.9" />
<line x1="163.2" y1="705.4" x2="163.2" y2="779.5" stroke="#2c2c2c" stroke-width="0.7" />
<path d="M155.4,769.1 L155.4,777.7 Q155.4,779.8 157.6,779.8 L182.8,779.8 Q184.8,779.8 184.8,777.7 L184.8,707.4 Q184.8,705.3 182.8,705.3 L158.6,705.3" fill="none" stroke="#1b1b1b" stroke-width="1.5" />
<line x1="183.6" y1="708.2" x2="183.6" y2="777.2" stroke="#2c2c2c" stroke-width="0.6" stroke-dasharray="5 1.5"/>
<line x1="163.2" y1="716.7" x2="184.8" y2="716.7" stroke="#2c2c2c" stroke-width="0.75" />
<line x1="177.8" y1="766.8" x2="184.8" y2="766.8" stroke="#2c2c2c" stroke-width="0.75" />
<path d="M184.8,708.7 L185.7,708.7 L185.7,769.2 L184.8,769.2" fill="none" stroke="#1b1b1b" stroke-width="0.8" />
<circle cx="138.5" cy="756.6" r="2.9" fill="none" stroke="#1b1b1b" stroke-width="1.0"/>
<circle cx="138.5" cy="756.6" r="1.59" fill="none" stroke="#1b1b1b" stroke-width="0.6"/>
<line x1="135.6" y1="756.6" x2="141.4" y2="756.6" stroke="#1b1b1b" stroke-width="0.6" />
<line x1="138.5" y1="753.7" x2="138.5" y2="759.5" stroke="#1b1b1b" stroke-width="0.6" />
<line x1="132.4" y1="756.6" x2="135.1" y2="756.6" stroke="#1b1b1b" stroke-width="0.7" />
<line x1="142.1" y1="755.8" x2="154.8" y2="755.8" stroke="#1b1b1b" stroke-width="0.6" />
<line x1="142.1" y1="757.4" x2="154.8" y2="757.4" stroke="#1b1b1b" stroke-width="0.6" />
</g>
<line x1="87" y1="732.2" x2="187" y2="732.2" stroke="#333" stroke-width="0.7" stroke-dasharray="12 1.5 2.5 1.5"/>
<line x1="114.4" y1="674.2" x2="114.4" y2="702" stroke="#262626" stroke-width="0.9" />
<line x1="118.4" y1="674.2" x2="118.4" y2="702" stroke="#262626" stroke-width="0.9" />
<line x1="84" y1="676.6" x2="134.4" y2="676.6" stroke="#1e1e1e" stroke-width="1.05" />
<polygon points="114.4,676.6 107.4,675.1 107.4,678.1" fill="#0a0a0a"/>
<polygon points="118.4,676.6 125.4,675.1 125.4,678.1" fill="#0a0a0a"/>
<text x="86.7" y="674.2" font-family="Liberation Serif" font-size="10.4" text-anchor="start" fill="#0e0e0e" stroke="#0e0e0e" stroke-width="0.34" textLength="11.23" lengthAdjust="spacingAndGlyphs" >25</text>
<line x1="89.6" y1="692.2" x2="131.2" y2="692.2" stroke="#1e1e1e" stroke-width="1.05" />
<polygon points="114.4,692.2 107.4,690.7 107.4,693.7" fill="#0a0a0a"/>
<polygon points="117.8,692.2 124.8,690.7 124.8,693.7" fill="#0a0a0a"/>
<text x="92.4" y="689.6" font-family="Liberation Serif" font-size="10.4" text-anchor="start" fill="#0e0e0e" stroke="#0e0e0e" stroke-width="0.34" textLength="5.62" lengthAdjust="spacingAndGlyphs" >5</text>
<line x1="66.3" y1="701.9" x2="114.4" y2="701.9" stroke="#262626" stroke-width="0.9" />
<line x1="66.3" y1="762.5" x2="114.4" y2="762.5" stroke="#262626" stroke-width="0.9" />
<line x1="67.4" y1="701.9" x2="67.4" y2="762.5" stroke="#1e1e1e" stroke-width="1.05" />
<polygon points="67.4,701.9 65.9,708.9 68.9,708.9" fill="#0a0a0a"/>
<polygon points="67.4,762.5 65.9,755.5 68.9,755.5" fill="#0a0a0a"/>
<text transform="translate(64 732.2) rotate(-90)" font-family="Liberation Serif" font-size="10.4" text-anchor="middle" fill="#0e0e0e" stroke="#0e0e0e" stroke-width="0.34" textLength="24.96" lengthAdjust="spacingAndGlyphs" >Ø550</text>
<line x1="83.3" y1="708.2" x2="114.4" y2="708.2" stroke="#262626" stroke-width="0.9" />
<line x1="83.3" y1="757" x2="114.4" y2="757" stroke="#262626" stroke-width="0.9" />
<line x1="84.4" y1="708.2" x2="84.4" y2="757" stroke="#1e1e1e" stroke-width="1.05" />
<polygon points="84.4,708.2 82.9,715.2 85.9,715.2" fill="#0a0a0a"/>
<polygon points="84.4,757 82.9,750 85.9,750" fill="#0a0a0a"/>
<text transform="translate(81.2 732.4) rotate(-90)" text-anchor="middle" font-family="Liberation Serif" font-size="10.4" fill="#161616" stroke="#0e0e0e" stroke-width="0.34">Ø450<tspan font-size="5.6">h6</tspan></text>
<g class="grf-front">
<path d="M259.7,704.9 L330.1,704.9 L335.7,715.3 L335.7,766.7 L321.5,779.1 L268.3,779.1 L254.1,766.7 L254.1,715.3 Z" fill="none" stroke="#1b1b1b" stroke-width="1.8" />
<line x1="258.2" y1="709.3" x2="258.2" y2="762.5" stroke="#1b1b1b" stroke-width="0.85" />
<line x1="260.5" y1="709.3" x2="260.5" y2="762.5" stroke="#1b1b1b" stroke-width="0.85" />
<line x1="263.2" y1="709.3" x2="263.2" y2="762.5" stroke="#1b1b1b" stroke-width="0.85" />
<line x1="331.1" y1="709.3" x2="331.1" y2="762.5" stroke="#1b1b1b" stroke-width="0.85" />
<line x1="328.4" y1="709.3" x2="328.4" y2="762.5" stroke="#1b1b1b" stroke-width="0.85" />
<line x1="259.5" y1="707.3" x2="330.3" y2="707.3" stroke="#1b1b1b" stroke-width="0.85" />
<path d="M258.2,762.5 L271.2,770.7 L318.4,770.7 L331.1,762.5" fill="none" stroke="#1b1b1b" stroke-width="0.9" />
<path d="M263.2,761.5 L272.2,768.7 L317.4,768.7 L328.4,761.5" fill="none" stroke="#1b1b1b" stroke-width="0.9" />
<line x1="258.2" y1="719.4" x2="263.2" y2="719.4" stroke="#1b1b1b" stroke-width="0.8" />
<line x1="328.4" y1="719.4" x2="331.1" y2="719.4" stroke="#1b1b1b" stroke-width="0.8" />
<line x1="258.2" y1="744.1" x2="263.2" y2="744.1" stroke="#1b1b1b" stroke-width="0.8" />
<line x1="328.4" y1="744.1" x2="331.1" y2="744.1" stroke="#1b1b1b" stroke-width="0.8" />
<ellipse cx="260.8" cy="756.1" rx="1.2" ry="1.2" fill="none" stroke="#1b1b1b" stroke-width="0.7"/>
<ellipse cx="328.4" cy="756.1" rx="1.2" ry="1.2" fill="none" stroke="#1b1b1b" stroke-width="0.7"/>
<ellipse cx="260.8" cy="710.8" rx="1.2" ry="1.2" fill="none" stroke="#1b1b1b" stroke-width="0.7"/>
<ellipse cx="328.4" cy="710.8" rx="1.2" ry="1.2" fill="none" stroke="#1b1b1b" stroke-width="0.7"/>
<ellipse cx="308.6" cy="758.8" rx="10.14" ry="9.3" fill="none" stroke="#1b1b1b" stroke-width="1.0"/>
<ellipse cx="308.6" cy="758.8" rx="8.28" ry="7.6" fill="none" stroke="#1b1b1b" stroke-width="0.7"/>
<ellipse cx="294.8" cy="731.8" rx="32.26" ry="29.6" fill="#fff" stroke="#1b1b1b" stroke-width="1.9"/>
<ellipse cx="294.8" cy="731.8" rx="30.08" ry="27.6" fill="none" stroke="#1b1b1b" stroke-width="0.8"/>
<ellipse cx="294.8" cy="731.8" rx="28.12" ry="25.8" fill="none" stroke="#1b1b1b" stroke-width="0.9"/>
<ellipse cx="294.8" cy="731.8" rx="25.51" ry="23.4" fill="none" stroke="#1b1b1b" stroke-width="0.8"/>
<ellipse cx="294.8" cy="731.8" rx="23.98" ry="22" fill="none" stroke="#1b1b1b" stroke-width="0.8"/>
<ellipse cx="322.9" cy="742.48" rx="0.55" ry="0.55" fill="#222" stroke="#1b1b1b" stroke-width="0.5"/>
<ellipse cx="306.44" cy="757.58" rx="0.55" ry="0.55" fill="#222" stroke="#1b1b1b" stroke-width="0.5"/>
<ellipse cx="283.16" cy="757.58" rx="0.55" ry="0.55" fill="#222" stroke="#1b1b1b" stroke-width="0.5"/>
<ellipse cx="266.7" cy="742.48" rx="0.55" ry="0.55" fill="#222" stroke="#1b1b1b" stroke-width="0.5"/>
<ellipse cx="266.7" cy="721.12" rx="0.55" ry="0.55" fill="#222" stroke="#1b1b1b" stroke-width="0.5"/>
<ellipse cx="283.16" cy="706.02" rx="0.55" ry="0.55" fill="#222" stroke="#1b1b1b" stroke-width="0.5"/>
<ellipse cx="306.44" cy="706.02" rx="0.55" ry="0.55" fill="#222" stroke="#1b1b1b" stroke-width="0.5"/>
<ellipse cx="322.9" cy="721.12" rx="0.55" ry="0.55" fill="#222" stroke="#1b1b1b" stroke-width="0.5"/>
<ellipse cx="294.8" cy="731.8" rx="14.17" ry="13" fill="none" stroke="#1b1b1b" stroke-width="0.9"/>
<ellipse cx="294.8" cy="731.8" rx="7.19" ry="6.6" fill="none" stroke="#1b1b1b" stroke-width="1.2"/>
<ellipse cx="294.8" cy="731.8" rx="4.25" ry="3.9" fill="none" stroke="#1b1b1b" stroke-width="0.9"/>
</g>
<line x1="251" y1="731.8" x2="338" y2="731.8" stroke="#222" stroke-width="0.9" />
<line x1="294.8" y1="699" x2="294.8" y2="770" stroke="#222" stroke-width="0.9" />
<path d="M225,711 L252,711 L335,752" fill="none" stroke="#1e1e1e" stroke-width="0.95" />
<text x="225" y="709" font-family="Liberation Serif" font-size="10.4" text-anchor="start" fill="#0e0e0e" stroke="#0e0e0e" stroke-width="0.34" textLength="25" lengthAdjust="spacingAndGlyphs" >Ø500</text>
<line x1="281.6" y1="687" x2="281.6" y2="703.4" stroke="#262626" stroke-width="0.9" />
<line x1="285" y1="687" x2="285" y2="703" stroke="#262626" stroke-width="0.9" />
<line x1="267" y1="690" x2="341" y2="690" stroke="#1e1e1e" stroke-width="1.05" />
<polygon points="281.6,690 274.6,688.5 274.6,691.5" fill="#0a0a0a"/>
<polygon points="285,690 292,688.5 292,691.5" fill="#0a0a0a"/>
<text x="302" y="687" font-family="Liberation Serif" font-size="10.4" text-anchor="start" fill="#0e0e0e" stroke="#0e0e0e" stroke-width="0.34" textLength="38" lengthAdjust="spacingAndGlyphs" >8-Ø17.5</text>
</g>
<g id="f660">
<g class="grf-side">
<line x1="447.8" y1="725.3" x2="471.7" y2="725.3" stroke="#1b1b1b" stroke-width="1.5" />
<line x1="447.8" y1="738.8" x2="471.7" y2="738.8" stroke="#1b1b1b" stroke-width="1.5" />
<path d="M448.6,725.3 Q447.4,725.3 447.4,726.5 L447.4,737.6 Q447.4,738.8 448.6,738.8" fill="none" stroke="#1b1b1b" stroke-width="1.1" />
<rect x="472.4" y="723.7" width="4.5" height="16.8" rx="0" fill="none" stroke="#1b1b1b" stroke-width="1.3"/>
<path d="M476.5,720.4 Q482.1,732 476.5,743.8" fill="none" stroke="#1b1b1b" stroke-width="1.1" />
<path d="M476.5,720.4 L471.5,715.8 L471.5,697.5 Q471.5,696.5 472.5,696.5 L474.2,696.5 Q475.2,696.5 475.2,697.5 L475.2,709.6 Q475.5,712 478.2,712 L487.9,711.4" fill="none" stroke="#1b1b1b" stroke-width="1.5" />
<path d="M476.5,743.8 L471.5,748.4 L471.5,767 Q471.5,768 472.5,768 L474.2,768 Q475.2,768 475.2,767 L475.2,754 Q475.5,751.9 478.2,751.9 L487.9,751.9" fill="none" stroke="#1b1b1b" stroke-width="1.5" />
<line x1="477" y1="747.7" x2="487.9" y2="747.7" stroke="#1b1b1b" stroke-width="0.9" />
<line x1="477.1" y1="723.4" x2="487.9" y2="723.4" stroke="#2c2c2c" stroke-width="0.75" />
<line x1="477.1" y1="740.7" x2="487.9" y2="740.7" stroke="#2c2c2c" stroke-width="0.75" />
<path d="M516.6,705.8 L488.9,705.8 Q487.9,705.8 487.9,706.8 L487.9,764.6 L490.3,768.9 L512.4,768.9" fill="none" stroke="#1b1b1b" stroke-width="1.5" />
<line x1="488.4" y1="706.1" x2="516.6" y2="706.1" stroke="#1b1b1b" stroke-width="1.8" />
<line x1="490.5" y1="708.8" x2="490.5" y2="768.5" stroke="#1b1b1b" stroke-width="0.9" />
<line x1="491.8" y1="708.8" x2="491.8" y2="768.5" stroke="#2c2c2c" stroke-width="0.6" />
<line x1="512.4" y1="708.8" x2="512.4" y2="768.5" stroke="#2c2c2c" stroke-width="0.8" />
<line x1="513.8" y1="708.8" x2="513.8" y2="768.5" stroke="#1b1b1b" stroke-width="0.8" />
<line x1="490.5" y1="708.8" x2="512.4" y2="708.8" stroke="#2c2c2c" stroke-width="0.8" />
<path d="M510.4,708.6 L515.6,707" fill="none" stroke="#1b1b1b" stroke-width="1.3" />
<rect x="490.5" y="730.5" width="21.9" height="2.8" rx="0" fill="#6e6e6e" stroke="#1b1b1b" stroke-width="0.9"/>
<line x1="490.5" y1="718.3" x2="512.4" y2="718.3" stroke="#1b1b1b" stroke-width="0.9" />
<line x1="490.5" y1="720.6" x2="512.4" y2="720.6" stroke="#1b1b1b" stroke-width="0.9" />
<line x1="490.5" y1="743.5" x2="512.4" y2="743.5" stroke="#1b1b1b" stroke-width="0.9" />
<line x1="490.5" y1="745.8" x2="512.4" y2="745.8" stroke="#1b1b1b" stroke-width="0.9" />
<line x1="490.5" y1="763.4" x2="512.4" y2="763.4" stroke="#2c2c2c" stroke-width="0.8" />
<line x1="516" y1="705.2" x2="516" y2="779.3" stroke="#1b1b1b" stroke-width="1.0" />
<line x1="518.6" y1="705.2" x2="518.6" y2="779.3" stroke="#1b1b1b" stroke-width="0.9" />
<line x1="520.2" y1="705.2" x2="520.2" y2="779.3" stroke="#2c2c2c" stroke-width="0.7" />
<path d="M512.4,768.9 L512.4,777.5 Q512.4,779.6 514.6,779.6 L538.8,779.6 Q540.8,779.6 540.8,777.5 L540.8,707.2 Q540.8,705.1 538.8,705.1 L515.6,705.1" fill="none" stroke="#1b1b1b" stroke-width="1.5" />
<line x1="539.6" y1="708" x2="539.6" y2="777" stroke="#2c2c2c" stroke-width="0.6" stroke-dasharray="5 1.5"/>
<line x1="520.2" y1="716.5" x2="540.8" y2="716.5" stroke="#2c2c2c" stroke-width="0.75" />
<line x1="533.8" y1="766.6" x2="540.8" y2="766.6" stroke="#2c2c2c" stroke-width="0.75" />
<path d="M540.8,708.5 L541.7,708.5 L541.7,769 L540.8,769" fill="none" stroke="#1b1b1b" stroke-width="0.8" />
<circle cx="495.2" cy="756.4" r="2.9" fill="none" stroke="#1b1b1b" stroke-width="1.0"/>
<circle cx="495.2" cy="756.4" r="1.59" fill="none" stroke="#1b1b1b" stroke-width="0.6"/>
<line x1="492.3" y1="756.4" x2="498.1" y2="756.4" stroke="#1b1b1b" stroke-width="0.6" />
<line x1="495.2" y1="753.5" x2="495.2" y2="759.3" stroke="#1b1b1b" stroke-width="0.6" />
<line x1="489.1" y1="756.4" x2="491.8" y2="756.4" stroke="#1b1b1b" stroke-width="0.7" />
<line x1="498.8" y1="755.6" x2="511.8" y2="755.6" stroke="#1b1b1b" stroke-width="0.6" />
<line x1="498.8" y1="757.2" x2="511.8" y2="757.2" stroke="#1b1b1b" stroke-width="0.6" />
</g>
<line x1="444" y1="732" x2="544" y2="732" stroke="#333" stroke-width="0.7" stroke-dasharray="12 1.5 2.5 1.5"/>
<line x1="471.5" y1="667" x2="471.5" y2="696.5" stroke="#262626" stroke-width="0.9" />
<line x1="475.2" y1="667" x2="475.2" y2="696.5" stroke="#262626" stroke-width="0.9" />
<line x1="440.5" y1="670" x2="489.6" y2="670" stroke="#1e1e1e" stroke-width="1.05" />
<polygon points="471.5,670 464.5,668.5 464.5,671.5" fill="#0a0a0a"/>
<polygon points="475.2,670 482.2,668.5 482.2,671.5" fill="#0a0a0a"/>
<text x="443.4" y="667.2" font-family="Liberation Serif" font-size="10.4" text-anchor="start" fill="#0e0e0e" stroke="#0e0e0e" stroke-width="0.34" textLength="11.23" lengthAdjust="spacingAndGlyphs" >28</text>
<line x1="445.9" y1="686" x2="486.4" y2="686" stroke="#1e1e1e" stroke-width="1.05" />
<polygon points="471.5,686 464.5,684.5 464.5,687.5" fill="#0a0a0a"/>
<polygon points="474.6,686 481.6,684.5 481.6,687.5" fill="#0a0a0a"/>
<text x="448.2" y="683.2" font-family="Liberation Serif" font-size="10.4" text-anchor="start" fill="#0e0e0e" stroke="#0e0e0e" stroke-width="0.34" textLength="5.62" lengthAdjust="spacingAndGlyphs" >6</text>
<line x1="422.4" y1="696.5" x2="471.5" y2="696.5" stroke="#262626" stroke-width="0.9" />
<line x1="422.4" y1="768" x2="471.5" y2="768" stroke="#262626" stroke-width="0.9" />
<line x1="424.1" y1="696.5" x2="424.1" y2="768" stroke="#1e1e1e" stroke-width="1.05" />
<polygon points="424.1,696.5 422.6,703.5 425.6,703.5" fill="#0a0a0a"/>
<polygon points="424.1,768 422.6,761 425.6,761" fill="#0a0a0a"/>
<text transform="translate(420.8 732.2) rotate(-90)" font-family="Liberation Serif" font-size="10.4" text-anchor="middle" fill="#0e0e0e" stroke="#0e0e0e" stroke-width="0.34" textLength="24.96" lengthAdjust="spacingAndGlyphs" >Ø660</text>
<line x1="438.8" y1="701.9" x2="471.5" y2="701.9" stroke="#262626" stroke-width="0.9" />
<line x1="438.8" y1="762" x2="471.5" y2="762" stroke="#262626" stroke-width="0.9" />
<line x1="440.5" y1="701.9" x2="440.5" y2="762" stroke="#1e1e1e" stroke-width="1.05" />
<polygon points="440.5,701.9 439,708.9 442,708.9" fill="#0a0a0a"/>
<polygon points="440.5,762 439,755 442,755" fill="#0a0a0a"/>
<text transform="translate(437.4 732.4) rotate(-90)" text-anchor="middle" font-family="Liberation Serif" font-size="10.4" fill="#161616" stroke="#0e0e0e" stroke-width="0.34">Ø550<tspan font-size="5.6">h6</tspan></text>
<g class="grf-front">
<path d="M610.3,704.8 L679.7,704.8 L686,716.2 L686,766.3 L671.7,779 L618.3,779 L604,766.3 L604,716.2 Z" fill="none" stroke="#1b1b1b" stroke-width="1.8" />
<line x1="608.1" y1="709.2" x2="608.1" y2="762.4" stroke="#1b1b1b" stroke-width="0.85" />
<line x1="610.4" y1="709.2" x2="610.4" y2="762.4" stroke="#1b1b1b" stroke-width="0.85" />
<line x1="613.1" y1="709.2" x2="613.1" y2="762.4" stroke="#1b1b1b" stroke-width="0.85" />
<line x1="681.4" y1="709.2" x2="681.4" y2="762.4" stroke="#1b1b1b" stroke-width="0.85" />
<line x1="678.7" y1="709.2" x2="678.7" y2="762.4" stroke="#1b1b1b" stroke-width="0.85" />
<line x1="609.4" y1="707.2" x2="680.6" y2="707.2" stroke="#1b1b1b" stroke-width="0.85" />
<path d="M608.1,762.4 L621.1,770.6 L668.7,770.6 L681.4,762.4" fill="none" stroke="#1b1b1b" stroke-width="0.9" />
<path d="M613.1,761.4 L622.1,768.6 L667.7,768.6 L678.7,761.4" fill="none" stroke="#1b1b1b" stroke-width="0.9" />
<line x1="608.1" y1="719.7" x2="613.1" y2="719.7" stroke="#1b1b1b" stroke-width="0.8" />
<line x1="678.7" y1="719.7" x2="681.4" y2="719.7" stroke="#1b1b1b" stroke-width="0.8" />
<line x1="608.1" y1="744.4" x2="613.1" y2="744.4" stroke="#1b1b1b" stroke-width="0.8" />
<line x1="678.7" y1="744.4" x2="681.4" y2="744.4" stroke="#1b1b1b" stroke-width="0.8" />
<ellipse cx="610.7" cy="756.4" rx="1.2" ry="1.2" fill="none" stroke="#1b1b1b" stroke-width="0.7"/>
<ellipse cx="678.7" cy="756.4" rx="1.2" ry="1.2" fill="none" stroke="#1b1b1b" stroke-width="0.7"/>
<ellipse cx="610.7" cy="711.1" rx="1.2" ry="1.2" fill="none" stroke="#1b1b1b" stroke-width="0.7"/>
<ellipse cx="678.7" cy="711.1" rx="1.2" ry="1.2" fill="none" stroke="#1b1b1b" stroke-width="0.7"/>
<ellipse cx="658.8" cy="759.1" rx="10.43" ry="9.3" fill="none" stroke="#1b1b1b" stroke-width="1.0"/>
<ellipse cx="658.8" cy="759.1" rx="8.53" ry="7.6" fill="none" stroke="#1b1b1b" stroke-width="0.7"/>
<ellipse cx="645" cy="732.1" rx="40.39" ry="36" fill="#fff" stroke="#1b1b1b" stroke-width="1.9"/>
<ellipse cx="645" cy="732.1" rx="37.7" ry="33.6" fill="none" stroke="#1b1b1b" stroke-width="0.8"/>
<ellipse cx="645" cy="732.1" rx="35.68" ry="31.8" fill="none" stroke="#1b1b1b" stroke-width="0.9"/>
<ellipse cx="645" cy="732.1" rx="32.99" ry="29.4" fill="none" stroke="#1b1b1b" stroke-width="0.8"/>
<ellipse cx="645" cy="732.1" rx="31.19" ry="27.8" fill="none" stroke="#1b1b1b" stroke-width="0.8"/>
<ellipse cx="680.56" cy="745.23" rx="0.55" ry="0.55" fill="#222" stroke="#1b1b1b" stroke-width="0.5"/>
<ellipse cx="659.73" cy="763.79" rx="0.55" ry="0.55" fill="#222" stroke="#1b1b1b" stroke-width="0.5"/>
<ellipse cx="630.27" cy="763.79" rx="0.55" ry="0.55" fill="#222" stroke="#1b1b1b" stroke-width="0.5"/>
<ellipse cx="609.44" cy="745.23" rx="0.55" ry="0.55" fill="#222" stroke="#1b1b1b" stroke-width="0.5"/>
<ellipse cx="609.44" cy="718.97" rx="0.55" ry="0.55" fill="#222" stroke="#1b1b1b" stroke-width="0.5"/>
<ellipse cx="630.27" cy="700.41" rx="0.55" ry="0.55" fill="#222" stroke="#1b1b1b" stroke-width="0.5"/>
<ellipse cx="659.73" cy="700.41" rx="0.55" ry="0.55" fill="#222" stroke="#1b1b1b" stroke-width="0.5"/>
<ellipse cx="680.56" cy="718.97" rx="0.55" ry="0.55" fill="#222" stroke="#1b1b1b" stroke-width="0.5"/>
<ellipse cx="645" cy="732.1" rx="14.36" ry="12.8" fill="none" stroke="#1b1b1b" stroke-width="0.9"/>
<ellipse cx="645" cy="732.1" rx="7.41" ry="6.6" fill="none" stroke="#1b1b1b" stroke-width="1.2"/>
<ellipse cx="645" cy="732.1" rx="4.26" ry="3.8" fill="none" stroke="#1b1b1b" stroke-width="0.9"/>
</g>
<line x1="599" y1="732.1" x2="691" y2="732.1" stroke="#222" stroke-width="0.9" />
<line x1="645" y1="693" x2="645" y2="770" stroke="#222" stroke-width="0.9" />
<path d="M574,707 L600,707 L689.5,757.2" fill="none" stroke="#1e1e1e" stroke-width="0.95" />
<text x="574" y="704.6" font-family="Liberation Serif" font-size="10.4" text-anchor="start" fill="#0e0e0e" stroke="#0e0e0e" stroke-width="0.34" textLength="25" lengthAdjust="spacingAndGlyphs" >Ø600</text>
<line x1="629.6" y1="685" x2="629.6" y2="698.6" stroke="#262626" stroke-width="0.9" />
<line x1="633" y1="685" x2="633" y2="698" stroke="#262626" stroke-width="0.9" />
<line x1="615" y1="687.6" x2="680" y2="687.6" stroke="#1e1e1e" stroke-width="1.05" />
<polygon points="629.6,687.6 622.6,686.1 622.6,689.1" fill="#0a0a0a"/>
<polygon points="633,687.6 640,686.1 640,689.1" fill="#0a0a0a"/>
<text x="650" y="685" font-family="Liberation Serif" font-size="10.4" text-anchor="start" fill="#0e0e0e" stroke="#0e0e0e" stroke-width="0.34" textLength="29" lengthAdjust="spacingAndGlyphs" >8-Ø22</text>
</g>
<defs><pattern id="hatch2" width="2.6" height="2.6" patternUnits="userSpaceOnUse" patternTransform="rotate(-45)"><rect width="2.6" height="2.6" fill="#fff"/><line x1="0" y1="1.3" x2="2.6" y2="1.3" stroke="#222" stroke-width="0.9"/></pattern></defs>
<g class="shaft-section">
<ellipse cx="87.6" cy="236.3" rx="11.02" ry="10.7" fill="url(#hatch2)" stroke="#1b1b1b" stroke-width="1.9"/>
<line x1="84.7" y1="212" x2="84.7" y2="226.1" stroke="#1b1b1b" stroke-width="0.9" />
<line x1="90.4" y1="212" x2="90.4" y2="226.1" stroke="#1b1b1b" stroke-width="0.9" />
<line x1="69.3" y1="214.4" x2="121.4" y2="214.4" stroke="#1e1e1e" stroke-width="1.05" />
<polygon points="84.7,214.4 77.7,212.9 77.7,215.9" fill="#0a0a0a"/>
<polygon points="90.4,214.4 97.4,212.9 97.4,215.9" fill="#0a0a0a"/>
<text x="114" y="212" font-family="Liberation Serif" font-size="10.8" text-anchor="middle" fill="#0e0e0e" stroke="#0e0e0e" stroke-width="0.34" textLength="11.66" lengthAdjust="spacingAndGlyphs" >32</text>
<line x1="63.3" y1="225.4" x2="86.7" y2="225.4" stroke="#262626" stroke-width="0.9" />
<line x1="63.3" y1="246.8" x2="82.5" y2="246.8" stroke="#262626" stroke-width="0.9" />
<line x1="65.7" y1="225.4" x2="65.7" y2="246.8" stroke="#1e1e1e" stroke-width="1.05" />
<polygon points="65.7,225.4 64.2,232.4 67.2,232.4" fill="#0a0a0a"/>
<polygon points="65.7,246.8 64.2,239.8 67.2,239.8" fill="#0a0a0a"/>
<text transform="translate(62.4 236.1) rotate(-90)" font-family="Liberation Serif" font-size="10.8" text-anchor="middle" fill="#0e0e0e" stroke="#0e0e0e" stroke-width="0.34" textLength="17.5" lengthAdjust="spacingAndGlyphs" >127</text>
<line x1="73.6" y1="236.3" x2="76.8" y2="236.3" stroke="#1b1b1b" stroke-width="0.8" />
<line x1="98.6" y1="236.3" x2="101.6" y2="236.3" stroke="#1b1b1b" stroke-width="0.8" />
<line x1="87.6" y1="247.1" x2="87.6" y2="249.3" stroke="#1b1b1b" stroke-width="0.8" />
</g>
<g class="shaft-section">
<ellipse cx="87.6" cy="510.3" rx="11.02" ry="10.7" fill="url(#hatch2)" stroke="#1b1b1b" stroke-width="1.9"/>
<line x1="84.7" y1="486" x2="84.7" y2="500.1" stroke="#1b1b1b" stroke-width="0.9" />
<line x1="90.4" y1="486" x2="90.4" y2="500.1" stroke="#1b1b1b" stroke-width="0.9" />
<line x1="69.3" y1="488.4" x2="121.4" y2="488.4" stroke="#1e1e1e" stroke-width="1.05" />
<polygon points="84.7,488.4 77.7,486.9 77.7,489.9" fill="#0a0a0a"/>
<polygon points="90.4,488.4 97.4,486.9 97.4,489.9" fill="#0a0a0a"/>
<text x="114" y="486" font-family="Liberation Serif" font-size="10.8" text-anchor="middle" fill="#0e0e0e" stroke="#0e0e0e" stroke-width="0.34" textLength="11.66" lengthAdjust="spacingAndGlyphs" >32</text>
<line x1="65.6" y1="499.4" x2="86.7" y2="499.4" stroke="#262626" stroke-width="0.9" />
<line x1="65.6" y1="520.8" x2="82.5" y2="520.8" stroke="#262626" stroke-width="0.9" />
<line x1="68" y1="499.4" x2="68" y2="520.8" stroke="#1e1e1e" stroke-width="1.05" />
<polygon points="68,499.4 66.5,506.4 69.5,506.4" fill="#0a0a0a"/>
<polygon points="68,520.8 66.5,513.8 69.5,513.8" fill="#0a0a0a"/>
<text transform="translate(64.8 510.1) rotate(-90)" font-family="Liberation Serif" font-size="10.8" text-anchor="middle" fill="#0e0e0e" stroke="#0e0e0e" stroke-width="0.34" textLength="17.5" lengthAdjust="spacingAndGlyphs" >127</text>
<line x1="73.6" y1="510.3" x2="76.8" y2="510.3" stroke="#1b1b1b" stroke-width="0.8" />
<line x1="98.6" y1="510.3" x2="101.6" y2="510.3" stroke="#1b1b1b" stroke-width="0.8" />
<line x1="87.6" y1="521.1" x2="87.6" y2="523.3" stroke="#1b1b1b" stroke-width="0.8" />
</g>
<g id="iso" fill="none" stroke="#5e5e5e" stroke-width="0.85" stroke-linejoin="round" stroke-linecap="round">
<path d="M610.33,55.67 L619.20,54.20 M610.33,61.73 L618.67,61.33"/>
<path d="M610.33,55.67 Q608.13,56.33 608.27,58.80 Q608.40,61.33 610.33,61.73 Q612.40,61.07 612.27,58.53 Q612.13,56.13 610.33,55.67"/>
<path d="M610.33,57.20 Q609.60,57.73 609.73,58.93 Q609.87,60.00 610.53,60.13"/>
<path d="M619.87,49.47 Q615.73,50.80 616.00,56.93 Q616.27,63.33 620.40,64.13 Q625.07,63.20 625.20,56.80 Q625.07,50.00 619.87,49.47"/>
<path d="M620.27,52.00 Q617.73,52.93 617.87,56.80 Q618.00,61.07 620.67,61.73"/>
<path d="M617.07,47.87 Q624.00,46.00 630.80,46.80 Q633.47,47.47 633.47,50.80 L633.47,67.33 Q632.67,70.80 627.47,71.47"/>
<path d="M618.27,50.00 Q624.00,48.40 629.33,48.93 Q631.47,49.47 631.47,52.00 L631.47,66.00"/>
<path d="M627.47,71.47 Q624.00,70.00 617.60,64.80"/>
<path d="M616.80,40.67 L617.07,47.87 M616.80,40.67 L633.60,36.53 M617.33,42.80 L635.33,45.73 M635.33,45.73 L645.60,43.07"/>
<path d="M633.60,36.53 L638.67,37.47 L641.07,35.33 L643.33,34.93 L644.40,37.47 L654.00,41.47"/>
<path d="M618.13,41.47 L633.20,37.87 L641.33,40.00 L635.33,44.27 Z"/>
<path d="M638.67,37.47 L640.00,39.33 M644.40,37.47 L643.33,40.00"/>
<path d="M635.33,45.73 L635.33,76.67 M637.33,46.67 L637.33,76.00 M644.80,45.07 L644.80,74.00 M646.80,44.27 L646.80,73.33"/>
<path d="M637.33,52.67 L644.80,51.20 M637.33,58.00 L644.80,56.53 M637.33,63.33 L644.80,61.87 M637.33,68.67 L644.80,67.20 M637.33,73.33 L644.80,72.00"/>
<path d="M651.47,46.67 L651.47,76.67"/>
<path d="M614.00,62.67 L617.07,66.00 L621.33,70.00 M617.07,66.00 L616.27,69.73 M623.07,67.07 Q624.67,66.53 625.20,68.13 Q624.93,69.73 623.33,69.47 Q622.40,68.67 623.07,67.07"/>
<path d="M619.33,64.67 L624.00,68.67"/>
<path d="M609.07,71.47 L612.13,69.87 L620.67,70.67 L621.47,73.60 L617.60,76.00 L609.60,74.80 Z"/>
<path d="M609.07,71.47 L609.60,74.80 M612.13,69.87 L612.40,72.67 L617.60,76.00 M612.40,72.67 L609.60,73.33"/>
<path d="M614.67,70.00 L614.67,67.33 M616.67,70.27 L616.67,68.00"/>
<path d="M625.47,77.47 L629.47,75.33 L638.67,76.00 L638.93,79.47 L632.00,81.47 L626.13,80.13 Z"/>
<path d="M625.47,77.47 L626.13,80.13 M629.47,75.33 L629.87,78.13 L632.00,81.47 M629.87,78.13 L638.93,76.67"/>
<path d="M632.00,76.00 L632.00,73.33"/>
<path d="M638.93,79.47 L654.00,76.67"/>
<path d="M646.67,46.67 L646.67,74.27 M651.33,43.60 L651.33,76.80 M656.00,44.80 L656.00,72.67"/>
<path d="M646.67,46.67 L651.33,43.60 L656.00,44.80 M644.00,44.00 L646.67,46.67"/>
<path d="M641.33,37.33 L642.67,35.33 L644.67,35.60 L645.47,38.67 M645.47,38.67 L651.33,43.60"/>
<path d="M656.00,67.33 L662.13,70.00 L662.13,73.47 L652.00,76.80 L640.00,79.47"/>
<path d="M656.00,70.00 L658.00,71.07 L658.00,73.33"/>
<path d="M656.00,42.13 L671.33,38.40 M656.80,43.73 L672.40,40.13 M657.47,45.47 L660.00,44.93"/>
<path d="M656.00,50.00 L658.13,49.73 M656.00,64.00 L658.13,62.93"/>
<path d="M658.13,49.73 Q657.07,56.00 658.13,62.93 M660.00,47.33 Q658.93,55.33 660.00,62.80"/>
<path d="M658.13,62.93 L674.67,62.80"/>
<path d="M663.33,50.80 L672.80,50.00 L672.80,62.13 L663.33,63.33 Z M663.33,50.80 L666.80,47.47 L674.93,46.67 L672.80,50.00"/>
<path d="M666.80,47.47 L666.80,50.00 M666.67,51.33 L666.67,62.67"/>
<path d="M662.00,46.67 L664.00,45.07 L668.00,47.33 M668.67,45.33 L671.33,43.73 L673.33,46.40"/>
<path d="M671.33,38.40 Q677.33,37.33 680.00,40.00 Q686.00,44.67 685.33,52.00 Q684.27,60.00 677.33,63.47"/>
<path d="M674.67,39.33 Q680.67,41.33 682.00,50.00 Q681.87,58.67 676.00,63.20"/>
<path d="M672.40,40.13 Q677.73,42.67 678.67,50.67 Q678.27,58.67 674.67,62.80"/>
<path d="M677.33,38.27 Q682.67,40.00 684.00,50.00 Q683.47,59.33 678.67,62.80"/>
<path d="M675.73,50.00 L677.07,49.33 M676.00,52.00 L677.47,51.33 M676.13,54.00 L677.60,53.33 M676.13,56.00 L677.47,55.47 M675.87,58.00 L677.20,57.47 M675.47,60.00 L676.80,59.60"/>
</g>
</svg>
</body>
</html>
